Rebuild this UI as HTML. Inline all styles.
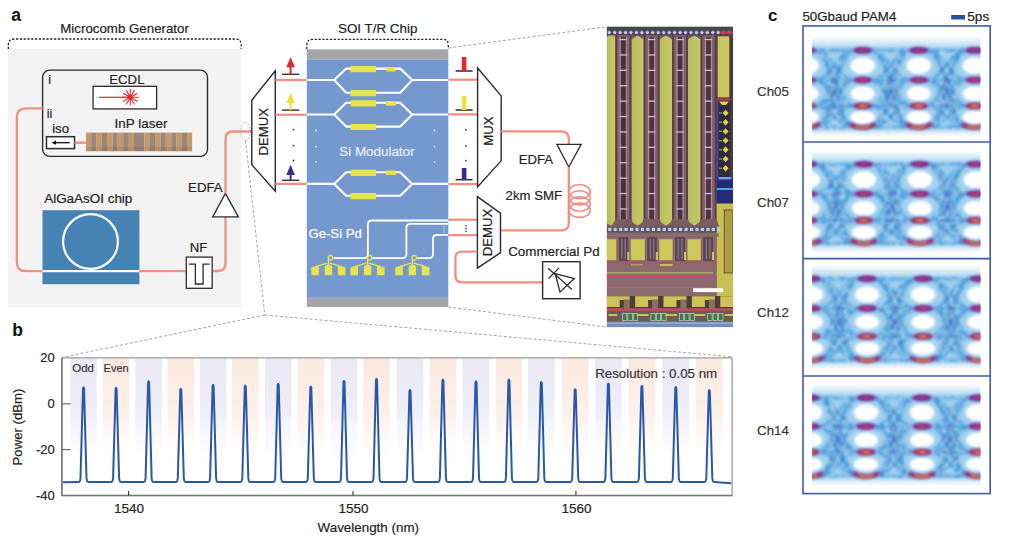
<!DOCTYPE html>
<html><head><meta charset="utf-8"><title>Figure</title>
<style>
html,body{margin:0;padding:0;background:#fff;}
svg{display:block;}
text{font-family:"Liberation Sans", sans-serif;}
</style></head>
<body>
<svg width="1013" height="545" viewBox="0 0 1013 545" font-family="Liberation Sans, sans-serif">
<rect width="1013" height="545" fill="#fff"/>
<defs><linearGradient id="gl" x1="0" y1="0" x2="0" y2="1"><stop offset="0" stop-color="#e9e8f5"/><stop offset="0.5" stop-color="#efeff8"/><stop offset="1" stop-color="#ffffff" stop-opacity="0"/></linearGradient><linearGradient id="gp" x1="0" y1="0" x2="0" y2="1"><stop offset="0" stop-color="#fce9e0"/><stop offset="0.5" stop-color="#fdf0ea"/><stop offset="1" stop-color="#ffffff" stop-opacity="0"/></linearGradient></defs>
<rect x="70.2" y="358.6" width="26.6" height="112" fill="url(#gl)"/>
<rect x="102.8" y="358.6" width="26.6" height="112" fill="url(#gp)"/>
<rect x="135.3" y="358.6" width="26.6" height="112" fill="url(#gl)"/>
<rect x="167.5" y="358.6" width="26.6" height="112" fill="url(#gp)"/>
<rect x="199.8" y="358.6" width="26.6" height="112" fill="url(#gl)"/>
<rect x="232.0" y="358.6" width="26.6" height="112" fill="url(#gp)"/>
<rect x="264.9" y="358.6" width="26.6" height="112" fill="url(#gl)"/>
<rect x="297.5" y="358.6" width="26.6" height="112" fill="url(#gp)"/>
<rect x="330.7" y="358.6" width="26.6" height="112" fill="url(#gl)"/>
<rect x="363.2" y="358.6" width="26.6" height="112" fill="url(#gp)"/>
<rect x="396.7" y="358.6" width="26.6" height="112" fill="url(#gl)"/>
<rect x="429.6" y="358.6" width="26.6" height="112" fill="url(#gp)"/>
<rect x="462.7" y="358.6" width="26.6" height="112" fill="url(#gl)"/>
<rect x="495.6" y="358.6" width="26.6" height="112" fill="url(#gp)"/>
<rect x="528.0" y="358.6" width="26.6" height="112" fill="url(#gl)"/>
<rect x="561.9" y="358.6" width="26.6" height="112" fill="url(#gp)"/>
<rect x="595.1" y="358.6" width="26.6" height="112" fill="url(#gl)"/>
<rect x="628.6" y="358.6" width="26.6" height="112" fill="url(#gp)"/>
<rect x="662.5" y="358.6" width="26.6" height="112" fill="url(#gl)"/>
<rect x="696.0" y="358.6" width="26.6" height="112" fill="url(#gp)"/>
<text x="72.2" y="371.8" font-size="11.5" fill="#333" text-anchor="start" font-weight="normal" stroke="#333" stroke-width="0.18" >Odd</text>
<text x="103.6" y="371.8" font-size="11" fill="#333" text-anchor="start" font-weight="normal" stroke="#333" stroke-width="0.18" >Even</text>
<text x="595.2" y="377.9" font-size="13.3" fill="#333" text-anchor="start" font-weight="normal" stroke="#333" stroke-width="0.18" >Resolution : 0.05 nm</text>
<path d="M62.699999999999996,482.2 L78.9,481.9 Q80.1,481.9 80.5,477.9 L83.0,388.2 Q83.5,386.4 84.0,388.2 L86.5,477.9 Q86.9,481.9 88.1,481.9 L111.5,481.9 Q112.7,481.9 113.1,477.9 L115.6,388.7 Q116.1,386.9 116.6,388.7 L119.1,477.9 Q119.5,481.9 120.7,481.9 L144.0,481.9 Q145.2,481.9 145.6,477.9 L148.1,382.2 Q148.6,380.4 149.1,382.2 L151.6,477.9 Q152.0,481.9 153.2,481.9 L176.2,481.9 Q177.4,481.9 177.8,477.9 L180.3,389.7 Q180.8,387.9 181.3,389.7 L183.8,477.9 Q184.2,481.9 185.4,481.9 L208.5,481.9 Q209.7,481.9 210.1,477.9 L212.6,385.7 Q213.1,383.9 213.6,385.7 L216.1,477.9 Q216.5,481.9 217.7,481.9 L240.7,481.9 Q241.9,481.9 242.3,477.9 L244.8,386.4 Q245.3,384.6 245.8,386.4 L248.3,477.9 Q248.7,481.9 249.9,481.9 L273.6,481.9 Q274.8,481.9 275.2,477.9 L277.7,384.7 Q278.2,382.9 278.7,384.7 L281.2,477.9 Q281.6,481.9 282.8,481.9 L306.2,481.9 Q307.4,481.9 307.8,477.9 L310.3,387.4 Q310.8,385.6 311.3,387.4 L313.8,477.9 Q314.2,481.9 315.4,481.9 L339.4,481.9 Q340.6,481.9 341.0,477.9 L343.5,381.7 Q344.0,379.9 344.5,381.7 L347.0,477.9 Q347.4,481.9 348.6,481.9 L371.9,481.9 Q373.1,481.9 373.5,477.9 L376.0,379.7 Q376.5,377.9 377.0,379.7 L379.5,477.9 Q379.9,481.9 381.1,481.9 L405.4,481.9 Q406.6,481.9 407.0,477.9 L409.5,390.8 Q410.0,389.0 410.5,390.8 L413.0,477.9 Q413.4,481.9 414.6,481.9 L438.3,481.9 Q439.5,481.9 439.9,477.9 L442.4,380.4 Q442.9,378.6 443.4,380.4 L445.9,477.9 Q446.3,481.9 447.5,481.9 L471.4,481.9 Q472.6,481.9 473.0,477.9 L475.5,382.1 Q476.0,380.3 476.5,382.1 L479.0,477.9 Q479.4,481.9 480.6,481.9 L504.3,481.9 Q505.5,481.9 505.9,477.9 L508.4,380.4 Q508.9,378.6 509.4,380.4 L511.9,477.9 Q512.3,481.9 513.5,481.9 L536.7,481.9 Q537.9,481.9 538.3,477.9 L540.8,382.8 Q541.3,381.0 541.8,382.8 L544.3,477.9 Q544.7,481.9 545.9,481.9 L570.6,481.9 Q571.8,481.9 572.2,477.9 L574.7,390.1 Q575.2,388.3 575.7,390.1 L578.2,477.9 Q578.6,481.9 579.8,481.9 L603.8,481.9 Q605.0,481.9 605.4,477.9 L607.9,384.5 Q608.4,382.7 608.9,384.5 L611.4,477.9 Q611.8,481.9 613.0,481.9 L637.3,481.9 Q638.5,481.9 638.9,477.9 L641.4,386.6 Q641.9,384.8 642.4,386.6 L644.9,477.9 Q645.3,481.9 646.5,481.9 L671.2,481.9 Q672.4,481.9 672.8,477.9 L675.3,388.0 Q675.8,386.2 676.3,388.0 L678.8,477.9 Q679.2,481.9 680.4,481.9 L704.7,481.9 Q705.9,481.9 706.3,477.9 L708.8,390.8 Q709.3,389.0 709.8,390.8 L712.3,477.9 Q712.7,481.9 713.9,481.9 L731.3000000000001,483.2" fill="none" stroke="#2a58a8" stroke-width="2.0" stroke-linejoin="round"/>
<rect x="61.9" y="357.9" width="670.2" height="137.70000000000005" fill="none" stroke="#8a8a8a" stroke-width="1.1"/>
<path d="M61.9,357.9 L61.9,495.6 L732.1,495.6" fill="none" stroke="#777" stroke-width="1.5"/>
<line x1="61.9" y1="403.8" x2="70.8" y2="403.8" stroke="#666" stroke-width="1.1"/>
<line x1="61.9" y1="449.6" x2="70.8" y2="449.6" stroke="#666" stroke-width="1.1"/>
<line x1="128.6" y1="495.6" x2="128.6" y2="491.1" stroke="#333" stroke-width="1.1"/>
<line x1="353.0" y1="495.6" x2="353.0" y2="491.1" stroke="#333" stroke-width="1.1"/>
<line x1="575.9" y1="495.6" x2="575.9" y2="491.1" stroke="#333" stroke-width="1.1"/>
<text x="54.7" y="362.29999999999995" font-size="13" fill="#222" text-anchor="end" font-weight="normal" stroke="#222" stroke-width="0.18" >20</text>
<text x="54.7" y="408.15" font-size="13" fill="#222" text-anchor="end" font-weight="normal" stroke="#222" stroke-width="0.18" >0</text>
<text x="54.7" y="453.99999999999994" font-size="13" fill="#222" text-anchor="end" font-weight="normal" stroke="#222" stroke-width="0.18" >-20</text>
<text x="54.7" y="499.84999999999997" font-size="13" fill="#222" text-anchor="end" font-weight="normal" stroke="#222" stroke-width="0.18" >-40</text>
<text x="129.1" y="512.8" font-size="13.5" fill="#222" text-anchor="middle" font-weight="normal" stroke="#222" stroke-width="0.18" >1540</text>
<text x="353.5" y="512.8" font-size="13.5" fill="#222" text-anchor="middle" font-weight="normal" stroke="#222" stroke-width="0.18" >1550</text>
<text x="576.4" y="512.8" font-size="13.5" fill="#222" text-anchor="middle" font-weight="normal" stroke="#222" stroke-width="0.18" >1560</text>
<text x="368.3" y="532.1" font-size="13.4" fill="#222" text-anchor="middle" font-weight="normal" stroke="#222" stroke-width="0.18" >Wavelength (nm)</text>
<text transform="translate(22,427) rotate(-90)" font-size="13.2" fill="#222" stroke="#222" stroke-width="0.18" text-anchor="middle">Power (dBm)</text>
<text x="12.2" y="335.9" font-size="17.5" fill="#111" text-anchor="start" font-weight="bold" >b</text>
<rect x="7.7" y="48.7" width="233.5" height="258.8" fill="#f3f3f3"/>
<path d="M8.3,49 L8.3,45 Q8.3,39 14.3,39 L235.2,39 Q241.2,39 241.2,45 L241.2,49" fill="none" stroke="#222" stroke-width="1.3" stroke-dasharray="2.2,1.6"/>
<path d="M306.8,49 L306.8,45 Q306.8,39.3 312.8,39.3 L442.3,39.3 Q448.3,39.3 448.3,45 L448.3,49" fill="none" stroke="#222" stroke-width="1.3" stroke-dasharray="2.2,1.6"/>
<text x="11.3" y="21.1" font-size="17.5" fill="#111" text-anchor="start" font-weight="bold" >a</text>
<text x="60.3" y="32.9" font-size="13.3" fill="#222" text-anchor="start" font-weight="normal" stroke="#222" stroke-width="0.18" >Microcomb Generator</text>
<text x="338" y="32.9" font-size="13.4" fill="#222" text-anchor="start" font-weight="normal" stroke="#222" stroke-width="0.18" >SOI T/R Chip</text>
<rect x="42.6" y="70.1" width="164.9" height="86.3" rx="7" fill="none" stroke="#2b2b2b" stroke-width="1.4"/>
<text x="48.3" y="83.5" font-size="12.5" fill="#222" text-anchor="start" font-weight="normal" stroke="#222" stroke-width="0.18" >i</text>
<text x="46.8" y="117.9" font-size="12.5" fill="#222" text-anchor="start" font-weight="normal" stroke="#222" stroke-width="0.18" >ii</text>
<text x="109.3" y="83.9" font-size="13.2" fill="#222" text-anchor="start" font-weight="normal" stroke="#222" stroke-width="0.18" >ECDL</text>
<rect x="93.1" y="86.3" width="63.5" height="22.6" fill="#fff" stroke="#2b2b2b" stroke-width="1.3"/>
<line x1="99" y1="97.3" x2="130.3" y2="97.3" stroke="#e8262c" stroke-width="1.2"/>
<path d="M131.30,97.30 L138.60,97.30 M131.17,97.80 L137.49,101.45 M130.80,98.17 L134.45,104.49 M130.30,98.30 L130.30,105.60 M129.80,98.17 L126.15,104.49 M129.43,97.80 L123.11,101.45 M129.30,97.30 L122.00,97.30 M129.43,96.80 L123.11,93.15 M129.80,96.43 L126.15,90.11 M130.30,96.30 L130.30,89.00 M130.80,96.43 L134.45,90.11 M131.17,96.80 L137.49,93.15" stroke="#e8262c" stroke-width="1.1" fill="none"/>
<circle cx="130.3" cy="97.3" r="1.8" fill="#e8262c"/>
<text x="114.6" y="128.4" font-size="13.45" fill="#222" text-anchor="start" font-weight="normal" stroke="#222" stroke-width="0.18" >InP laser</text>
<text x="52.2" y="133.1" font-size="13.2" fill="#222" text-anchor="start" font-weight="normal" stroke="#222" stroke-width="0.18" >iso</text>
<rect x="46.5" y="136.7" width="28" height="11.9" fill="#fff" stroke="#2b2b2b" stroke-width="1.5"/>
<line x1="54" y1="142.7" x2="69.7" y2="142.7" stroke="#111" stroke-width="1.3"/>
<path d="M51.6,142.7 L56,140.6 L56,144.8 Z" fill="#111"/>
<line x1="74.5" y1="142.7" x2="86" y2="142.7" stroke="#f08e82" stroke-width="2.3"/>
<rect x="86" y="132.6" width="5.25" height="18.6" fill="#c59a6b"/>
<rect x="91.2" y="132.6" width="5.05" height="18.6" fill="#9b877c"/>
<rect x="96.2" y="132.6" width="5.55" height="18.6" fill="#c59a6b"/>
<rect x="101.7" y="132.6" width="5.35" height="18.6" fill="#9b877c"/>
<rect x="107" y="132.6" width="5.55" height="18.6" fill="#c59a6b"/>
<rect x="112.5" y="132.6" width="5.25" height="18.6" fill="#9b877c"/>
<rect x="117.7" y="132.6" width="5.55" height="18.6" fill="#c59a6b"/>
<rect x="123.2" y="132.6" width="5.65" height="18.6" fill="#9b877c"/>
<rect x="128.8" y="132.6" width="5.25" height="18.6" fill="#c59a6b"/>
<rect x="134" y="132.6" width="10.35" height="18.6" fill="#9b877c"/>
<rect x="144.3" y="132.6" width="5.55" height="18.6" fill="#c59a6b"/>
<rect x="149.8" y="132.6" width="5.35" height="18.6" fill="#9b877c"/>
<rect x="155.1" y="132.6" width="5.55" height="18.6" fill="#c59a6b"/>
<rect x="160.6" y="132.6" width="5.25" height="18.6" fill="#9b877c"/>
<rect x="165.8" y="132.6" width="5.55" height="18.6" fill="#c59a6b"/>
<rect x="171.3" y="132.6" width="5.35" height="18.6" fill="#9b877c"/>
<rect x="176.6" y="132.6" width="5.25" height="18.6" fill="#c59a6b"/>
<rect x="181.8" y="132.6" width="5.25" height="18.6" fill="#9b877c"/>
<rect x="187" y="132.6" width="5.15" height="18.6" fill="#c59a6b"/>
<rect x="86" y="146.8" width="106.1" height="4.4" fill="#5a4030" opacity="0.13"/>
<path d="M42.6,108.4 L26,108.4 Q16.8,108.4 16.8,117.6 L16.8,262 Q16.8,271.2 26,271.2 L42.5,271.2" fill="none" stroke="#f08e82" stroke-width="2.3"/>
<text x="44.2" y="202.8" font-size="13.45" fill="#222" text-anchor="start" font-weight="normal" stroke="#222" stroke-width="0.18" >AlGaAsOI chip</text>
<rect x="42.5" y="210.2" width="96.9" height="74" fill="#4682b4"/>
<circle cx="90.5" cy="241.5" r="27.4" fill="none" stroke="#fff" stroke-width="2.2"/>
<line x1="42.5" y1="271.2" x2="139.4" y2="271.2" stroke="#fff" stroke-width="2.3"/>
<line x1="139.4" y1="271.2" x2="185.7" y2="271.2" stroke="#f08e82" stroke-width="2.3"/>
<text x="189.8" y="252.1" font-size="13.2" fill="#222" text-anchor="start" font-weight="normal" stroke="#222" stroke-width="0.18" >NF</text>
<rect x="186.3" y="257.1" width="25.9" height="31.2" fill="#fff" stroke="#2b2b2b" stroke-width="1.3"/>
<path d="M188.6,264.2 L195.4,264.2 L195.4,284 L203.1,284 L203.1,264.2 L209.7,264.2" fill="none" stroke="#2b2b2b" stroke-width="1.3"/>
<path d="M212.8,271 L218,271 Q225.5,271 225.5,263.5 L225.5,216.9" fill="none" stroke="#f08e82" stroke-width="2.3"/>
<text x="188.1" y="191.7" font-size="13.2" fill="#222" text-anchor="start" font-weight="normal" stroke="#222" stroke-width="0.18" >EDFA</text>
<path d="M225.4,193.4 L238.3,216.9 L212.7,216.9 Z" fill="#fff" stroke="#2b2b2b" stroke-width="1.3"/>
<path d="M225.5,193.4 L225.5,139 Q225.5,131.5 233,131.5 L252,131.5" fill="none" stroke="#f08e82" stroke-width="2.3"/>
<ellipse cx="245.5" cy="131.3" rx="4.7" ry="9" fill="none" stroke="#999" stroke-width="0.8" stroke-dasharray="1.5,1.5"/>
<path d="M251.8,100.2 L275.3,70.8 L275.3,191.2 L251.8,164.8 Z" fill="#fff" stroke="#2b2b2b" stroke-width="1.4" stroke-linejoin="miter"/>
<text transform="translate(268.4,155.5) rotate(-90)" font-size="13.2" fill="#222" stroke="#222" stroke-width="0.18">DEMUX</text>
<line x1="275.3" y1="80" x2="306.8" y2="80" stroke="#f08e82" stroke-width="2.3"/>
<line x1="275.3" y1="114.8" x2="306.8" y2="114.8" stroke="#f08e82" stroke-width="2.3"/>
<line x1="275.3" y1="183.9" x2="306.8" y2="183.9" stroke="#f08e82" stroke-width="2.3"/>
<line x1="282.0" y1="74.3" x2="299.3" y2="74.3" stroke="#333" stroke-width="1.4"/>
<line x1="290.6" y1="74.3" x2="290.6" y2="65" stroke="#e8262c" stroke-width="2"/>
<path d="M290.6,57 L294.90000000000003,67.2 L286.3,67.2 Z" fill="#e8262c"/>
<line x1="282.0" y1="110.1" x2="299.3" y2="110.1" stroke="#333" stroke-width="1.4"/>
<line x1="290.6" y1="110.1" x2="290.6" y2="100.8" stroke="#ece33a" stroke-width="2"/>
<path d="M290.6,92.8 L294.90000000000003,103.0 L286.3,103.0 Z" fill="#ece33a"/>
<line x1="282.0" y1="180.3" x2="299.3" y2="180.3" stroke="#333" stroke-width="1.4"/>
<line x1="290.6" y1="180.3" x2="290.6" y2="172.8" stroke="#3e2a8c" stroke-width="2"/>
<path d="M290.6,164.8 L294.90000000000003,175.0 L286.3,175.0 Z" fill="#3e2a8c"/>
<circle cx="293.5" cy="129.6" r="0.9" fill="#333"/>
<circle cx="293.5" cy="145.7" r="0.9" fill="#333"/>
<circle cx="293.5" cy="160.5" r="0.9" fill="#333"/>
<rect x="306.8" y="49.3" width="141.5" height="10.4" fill="#a5a6aa"/>
<rect x="306.8" y="59.6" width="141.5" height="238.2" fill="#7599cf"/>
<rect x="306.8" y="297.7" width="141.5" height="9.2" fill="#a5a6aa"/>
<path d="M306.8,80 L334.2,80 L346.2,68.6 L400.2,68.6 L412.2,80 L448.3,80 M334.2,80 L346.2,92.8 L400.2,92.8 L412.2,80" fill="none" stroke="#fff" stroke-width="2.1" stroke-linejoin="round"/>
<rect x="350.5" y="66.1" width="25.6" height="6.2" rx="0.6" fill="#e9e44c"/>
<rect x="385.9" y="66.9" width="9.9" height="4.6" rx="1.2" fill="#e9e44c"/>
<rect x="350.5" y="90.1" width="25.6" height="6.2" rx="0.6" fill="#e9e44c"/>
<path d="M306.8,114.5 L334.2,114.5 L346.2,102.8 L400.2,102.8 L412.2,114.5 L448.3,114.5 M334.2,114.5 L346.2,126.6 L400.2,126.6 L412.2,114.5" fill="none" stroke="#fff" stroke-width="2.1" stroke-linejoin="round"/>
<rect x="350.5" y="100.3" width="25.6" height="6.2" rx="0.6" fill="#e9e44c"/>
<rect x="385.9" y="101.1" width="9.9" height="4.6" rx="1.2" fill="#e9e44c"/>
<rect x="350.5" y="123.9" width="25.6" height="6.2" rx="0.6" fill="#e9e44c"/>
<path d="M306.8,183.9 L334.2,183.9 L346.2,172.2 L400.2,172.2 L412.2,183.9 L448.3,183.9 M334.2,183.9 L346.2,195.8 L400.2,195.8 L412.2,183.9" fill="none" stroke="#fff" stroke-width="2.1" stroke-linejoin="round"/>
<rect x="350.5" y="169.7" width="25.6" height="6.2" rx="0.6" fill="#e9e44c"/>
<rect x="385.9" y="170.5" width="9.9" height="4.6" rx="1.2" fill="#e9e44c"/>
<rect x="350.5" y="193.1" width="25.6" height="6.2" rx="0.6" fill="#e9e44c"/>
<circle cx="316.1" cy="130.4" r="0.9" fill="#e8eef8"/>
<circle cx="434.5" cy="130.4" r="0.9" fill="#e8eef8"/>
<circle cx="316.1" cy="146.6" r="0.9" fill="#e8eef8"/>
<circle cx="434.5" cy="146.6" r="0.9" fill="#e8eef8"/>
<circle cx="316.1" cy="161.8" r="0.9" fill="#e8eef8"/>
<circle cx="434.5" cy="161.8" r="0.9" fill="#e8eef8"/>
<text x="339.3" y="155.8" font-size="13.4" fill="#e9eef7" text-anchor="start" font-weight="normal" stroke="#e9eef7" stroke-width="0.18" >Si Modulator</text>
<text x="308.4" y="238.1" font-size="13.2" fill="#ffffff" text-anchor="start" font-weight="normal" stroke="#ffffff" stroke-width="0.18" >Ge-Si Pd</text>
<path d="M448.3,220.5 L372,220.5 Q367.9,220.5 367.9,224.6 L367.9,254 Q367.9,258.1 363.8,258.1 L333.6,258.1" fill="none" stroke="#fff" stroke-width="1.8"/>
<path d="M448.3,223.8 L410.5,223.8 Q406.4,223.8 406.4,227.9 L406.4,254 Q406.4,258.1 402.3,258.1 L372.5,258.1" fill="none" stroke="#fff" stroke-width="1.8"/>
<path d="M448.3,234.8 L437,234.8 Q433,234.8 433,238.8 L433,254 Q433,258.1 429,258.1 L417.4,258.1" fill="none" stroke="#fff" stroke-width="1.8"/>
<line x1="444" y1="225.5" x2="444" y2="233" stroke="#fff" stroke-width="0.8" stroke-dasharray="1,1"/>
<path d="M311.3,275.2 L311.3,267.6 L318.9,265.3 L318.9,275.2 Z M324.8,275.2 L324.8,266.2 L328.5,263.9 L332.2,266.2 L332.2,275.2 Z M337.8,275.2 L337.8,265.3 L345.5,267.6 L345.5,275.2 Z" fill="#e9e44c"/>
<path d="M315.5,266.6 L327.3,263.2 M329.7,263.2 L341.5,266.6 M328.5,264.5 L328.5,259.5 L328.9,258.5" stroke="#e9e44c" stroke-width="1.4" fill="none"/>
<circle cx="330.4" cy="257.8" r="2.3" fill="none" stroke="#e9e44c" stroke-width="1.3"/>
<path d="M350.40000000000003,275.2 L350.40000000000003,267.6 L358.0,265.3 L358.0,275.2 Z M363.90000000000003,275.2 L363.90000000000003,266.2 L367.6,263.9 L371.3,266.2 L371.3,275.2 Z M376.90000000000003,275.2 L376.90000000000003,265.3 L384.6,267.6 L384.6,275.2 Z" fill="#e9e44c"/>
<path d="M354.6,266.6 L366.40000000000003,263.2 M368.8,263.2 L380.6,266.6 M367.6,264.5 L367.6,259.5 L368.1,258.5" stroke="#e9e44c" stroke-width="1.4" fill="none"/>
<circle cx="369.6" cy="257.8" r="2.3" fill="none" stroke="#e9e44c" stroke-width="1.3"/>
<path d="M395.2,275.2 L395.2,267.6 L402.79999999999995,265.3 L402.79999999999995,275.2 Z M408.7,275.2 L408.7,266.2 L412.4,263.9 L416.09999999999997,266.2 L416.09999999999997,275.2 Z M421.7,275.2 L421.7,265.3 L429.4,267.6 L429.4,275.2 Z" fill="#e9e44c"/>
<path d="M399.4,266.6 L411.2,263.2 M413.59999999999997,263.2 L425.4,266.6 M412.4,264.5 L412.4,259.5 L412.8,258.5" stroke="#e9e44c" stroke-width="1.4" fill="none"/>
<circle cx="414.3" cy="257.8" r="2.3" fill="none" stroke="#e9e44c" stroke-width="1.3"/>
<line x1="448.3" y1="79.7" x2="477.6" y2="79.7" stroke="#f08e82" stroke-width="2.3"/>
<line x1="448.3" y1="114.4" x2="477.6" y2="114.4" stroke="#f08e82" stroke-width="2.3"/>
<line x1="448.3" y1="184.1" x2="477.6" y2="184.1" stroke="#f08e82" stroke-width="2.3"/>
<path d="M477.6,68 L501.2,95.9 L501.2,160.6 L477.6,187 Z" fill="#fff" stroke="#2b2b2b" stroke-width="1.4"/>
<text transform="translate(493.3,145.8) rotate(-90)" font-size="13.2" fill="#222" stroke="#222" stroke-width="0.18">MUX</text>
<line x1="455.6" y1="71" x2="472.6" y2="71" stroke="#2a2a2a" stroke-width="1.5"/>
<rect x="461.8" y="57" width="4.6" height="14" fill="#e8262c"/>
<line x1="455.6" y1="110" x2="472.6" y2="110" stroke="#2a2a2a" stroke-width="1.5"/>
<rect x="461.8" y="95.9" width="4.6" height="14.099999999999994" fill="#ece33a"/>
<line x1="455.6" y1="179.7" x2="472.6" y2="179.7" stroke="#2a2a2a" stroke-width="1.5"/>
<rect x="461.8" y="168" width="4.6" height="11.699999999999989" fill="#3e2a8c"/>
<circle cx="465.9" cy="129.7" r="0.9" fill="#333"/>
<circle cx="465.9" cy="145.9" r="0.9" fill="#333"/>
<circle cx="465.9" cy="160.6" r="0.9" fill="#333"/>
<path d="M501.2,131.3 L561,131.3 Q568.8,131.3 568.8,139 L568.8,144.4" fill="none" stroke="#f08e82" stroke-width="2.3"/>
<path d="M556.9,144.4 L581.2,144.4 L568.8,167 Z" fill="#fff" stroke="#2b2b2b" stroke-width="1.3"/>
<text x="518.7" y="164" font-size="13.2" fill="#222" text-anchor="start" font-weight="normal" stroke="#222" stroke-width="0.18" >EDFA</text>
<text x="505.6" y="199.5" font-size="13.2" fill="#222" text-anchor="start" font-weight="normal" stroke="#222" stroke-width="0.18" >2km SMF</text>
<path d="M568.8,167 L568.8,223 Q568.8,230.4 561.4,230.4 L501.2,230.4" fill="none" stroke="#f08e82" stroke-width="2.3"/>
<ellipse cx="579.6" cy="191.65" rx="10.65" ry="7.15" fill="none" stroke="#f08e82" stroke-width="1.6"/>
<ellipse cx="579.6" cy="197.85" rx="10.65" ry="7.15" fill="none" stroke="#f08e82" stroke-width="1.6"/>
<ellipse cx="579.6" cy="204.05" rx="10.65" ry="7.15" fill="none" stroke="#f08e82" stroke-width="1.6"/>
<ellipse cx="579.6" cy="210.25" rx="10.65" ry="7.15" fill="none" stroke="#f08e82" stroke-width="1.6"/>
<line x1="448.3" y1="219.7" x2="477.4" y2="219.7" stroke="#f08e82" stroke-width="2.3"/>
<line x1="448.3" y1="235.1" x2="477.4" y2="235.1" stroke="#f08e82" stroke-width="2.3"/>
<path d="M477.4,196.6 L500.5,213.1 L500.5,252.7 L477.4,268.1 Z" fill="#fff" stroke="#2b2b2b" stroke-width="1.4"/>
<text transform="translate(492,256.3) rotate(-90)" font-size="13.2" fill="#222" stroke="#222" stroke-width="0.18">DEMUX</text>
<circle cx="466" cy="225.8" r="0.8" fill="#333"/>
<circle cx="466" cy="228.6" r="0.8" fill="#333"/>
<circle cx="466" cy="231.4" r="0.8" fill="#333"/>
<path d="M477.4,251.6 L462,251.6 Q455.4,251.6 455.4,258.2 L455.4,275.8 Q455.4,282.4 462,282.4 L542.6,282.4" fill="none" stroke="#f08e82" stroke-width="2.3"/>
<text x="508.2" y="255.6" font-size="13.38" fill="#222" text-anchor="start" font-weight="normal" stroke="#222" stroke-width="0.18" >Commercial Pd</text>
<rect x="542.6" y="261.7" width="37.5" height="37" fill="#fff" stroke="#2b2b2b" stroke-width="1.4"/>
<path d="M555.2,273.6 L574.3,278.5 L560,292.1 Z M548.1,268.3 L571.9,289.5 M548.6,278.5 L559.1,267.9" fill="none" stroke="#2b2b2b" stroke-width="1.3"/>
<g stroke="#9a9a9a" stroke-width="0.9" stroke-dasharray="3,2" fill="none"><line x1="448.3" y1="48" x2="606.6" y2="26.8"/><line x1="448.3" y1="307" x2="606.6" y2="327"/><line x1="245.5" y1="140.3" x2="264.8" y2="315"/><line x1="264.8" y1="315" x2="61.9" y2="357.5"/><line x1="264.8" y1="315" x2="732" y2="356.8"/></g>
<defs><clipPath id="pclip"><rect x="606.7" y="26.6" width="126.29999999999995" height="300.59999999999997"/></clipPath><filter id="pbl" x="0" y="0" width="100%" height="100%"><feGaussianBlur stdDeviation="0.55"/></filter><linearGradient id="ggr" x1="0" y1="0" x2="1" y2="0"><stop offset="0" stop-color="#b6bc60"/><stop offset="1" stop-color="#c8c766"/></linearGradient></defs>
<g clip-path="url(#pclip)"><g filter="url(#pbl)">
<rect x="606.7" y="26.6" width="126.29999999999995" height="300.59999999999997" fill="#7a5c60"/>
<rect x="606.7" y="26.6" width="126.29999999999995" height="3.2" fill="#3c4c44"/>
<rect x="606.7" y="29.8" width="126.29999999999995" height="5.6" fill="#503a62"/>
<circle cx="609.2" cy="32.6" r="2.0" fill="#c4d4e0" stroke="#34406a" stroke-width="0.7"/>
<rect x="611.5" y="31.8" width="0.9" height="1.6" fill="#c03050"/>
<circle cx="614.7" cy="32.6" r="2.0" fill="#c4d4e0" stroke="#34406a" stroke-width="0.7"/>
<rect x="617.0" y="31.8" width="0.9" height="1.6" fill="#c03050"/>
<circle cx="620.1" cy="32.6" r="2.0" fill="#c4d4e0" stroke="#34406a" stroke-width="0.7"/>
<rect x="622.4" y="31.8" width="0.9" height="1.6" fill="#c03050"/>
<circle cx="625.6" cy="32.6" r="2.0" fill="#c4d4e0" stroke="#34406a" stroke-width="0.7"/>
<rect x="627.9" y="31.8" width="0.9" height="1.6" fill="#c03050"/>
<circle cx="631.0" cy="32.6" r="2.0" fill="#c4d4e0" stroke="#34406a" stroke-width="0.7"/>
<rect x="633.3" y="31.8" width="0.9" height="1.6" fill="#c03050"/>
<circle cx="636.5" cy="32.6" r="2.0" fill="#c4d4e0" stroke="#34406a" stroke-width="0.7"/>
<rect x="638.8" y="31.8" width="0.9" height="1.6" fill="#c03050"/>
<circle cx="641.9" cy="32.6" r="2.0" fill="#c4d4e0" stroke="#34406a" stroke-width="0.7"/>
<rect x="644.2" y="31.8" width="0.9" height="1.6" fill="#c03050"/>
<circle cx="647.4" cy="32.6" r="2.0" fill="#c4d4e0" stroke="#34406a" stroke-width="0.7"/>
<rect x="649.6" y="31.8" width="0.9" height="1.6" fill="#c03050"/>
<circle cx="652.8" cy="32.6" r="2.0" fill="#c4d4e0" stroke="#34406a" stroke-width="0.7"/>
<rect x="655.1" y="31.8" width="0.9" height="1.6" fill="#c03050"/>
<circle cx="658.2" cy="32.6" r="2.0" fill="#c4d4e0" stroke="#34406a" stroke-width="0.7"/>
<rect x="660.5" y="31.8" width="0.9" height="1.6" fill="#c03050"/>
<circle cx="663.7" cy="32.6" r="2.0" fill="#c4d4e0" stroke="#34406a" stroke-width="0.7"/>
<rect x="666.0" y="31.8" width="0.9" height="1.6" fill="#c03050"/>
<circle cx="669.2" cy="32.6" r="2.0" fill="#c4d4e0" stroke="#34406a" stroke-width="0.7"/>
<rect x="671.5" y="31.8" width="0.9" height="1.6" fill="#c03050"/>
<circle cx="674.6" cy="32.6" r="2.0" fill="#c4d4e0" stroke="#34406a" stroke-width="0.7"/>
<rect x="676.9" y="31.8" width="0.9" height="1.6" fill="#c03050"/>
<circle cx="680.1" cy="32.6" r="2.0" fill="#c4d4e0" stroke="#34406a" stroke-width="0.7"/>
<rect x="682.4" y="31.8" width="0.9" height="1.6" fill="#c03050"/>
<circle cx="685.5" cy="32.6" r="2.0" fill="#c4d4e0" stroke="#34406a" stroke-width="0.7"/>
<rect x="687.8" y="31.8" width="0.9" height="1.6" fill="#c03050"/>
<circle cx="691.0" cy="32.6" r="2.0" fill="#c4d4e0" stroke="#34406a" stroke-width="0.7"/>
<rect x="693.2" y="31.8" width="0.9" height="1.6" fill="#c03050"/>
<circle cx="696.4" cy="32.6" r="2.0" fill="#c4d4e0" stroke="#34406a" stroke-width="0.7"/>
<rect x="698.7" y="31.8" width="0.9" height="1.6" fill="#c03050"/>
<circle cx="701.9" cy="32.6" r="2.0" fill="#c4d4e0" stroke="#34406a" stroke-width="0.7"/>
<rect x="704.1" y="31.8" width="0.9" height="1.6" fill="#c03050"/>
<circle cx="707.3" cy="32.6" r="2.0" fill="#c4d4e0" stroke="#34406a" stroke-width="0.7"/>
<rect x="709.6" y="31.8" width="0.9" height="1.6" fill="#c03050"/>
<circle cx="712.8" cy="32.6" r="2.0" fill="#c4d4e0" stroke="#34406a" stroke-width="0.7"/>
<rect x="715.0" y="31.8" width="0.9" height="1.6" fill="#c03050"/>
<circle cx="718.2" cy="32.6" r="2.0" fill="#c4d4e0" stroke="#34406a" stroke-width="0.7"/>
<rect x="720.5" y="31.8" width="0.9" height="1.6" fill="#c03050"/>
<circle cx="723.7" cy="32.6" r="2.0" fill="#c4d4e0" stroke="#34406a" stroke-width="0.7"/>
<rect x="726.0" y="31.8" width="0.9" height="1.6" fill="#c03050"/>
<circle cx="729.1" cy="32.6" r="2.0" fill="#c4d4e0" stroke="#34406a" stroke-width="0.7"/>
<rect x="731.4" y="31.8" width="0.9" height="1.6" fill="#c03050"/>
<circle cx="734.6" cy="32.6" r="2.0" fill="#c4d4e0" stroke="#34406a" stroke-width="0.7"/>
<rect x="736.9" y="31.8" width="0.9" height="1.6" fill="#c03050"/>
<rect x="720.5" y="31.2" width="12" height="2.6" fill="#d0304c"/>
<path d="M606.7,37.5 L608.7,35.6 L615.3,35.6 L615.3,221.5 L611.0,225.8 L606.7,223 Z" fill="url(#ggr)"/>
<path d="M631.4,39.5 L637.55,35.6 L643.7,39.5 L643.7,221.5 L637.55,225.8 L631.4,221.5 Z" fill="url(#ggr)"/>
<path d="M659.5,39.5 L665.8,35.6 L672.1,39.5 L672.1,221.5 L665.8,225.8 L659.5,221.5 Z" fill="url(#ggr)"/>
<path d="M688,39.5 L694.3,35.6 L700.6,39.5 L700.6,221.5 L694.3,225.8 L688,221.5 Z" fill="url(#ggr)"/>
<rect x="716.4" y="35.5" width="14.2" height="63" fill="#4a3838"/>
<rect x="717.6" y="36.3" width="11.8" height="61" fill="#c8c862"/>
<rect x="729.8" y="35.5" width="3.2" height="170" fill="#4a3a3a"/>
<rect x="716.4" y="98.6" width="14" height="2" fill="#c8344e"/>
<rect x="716.4" y="100.6" width="13.6" height="77" fill="#2e2a40"/>
<rect x="716.4" y="100.6" width="2" height="77" fill="#4a48a0"/>
<path d="M725.6,109.8 L728.6,113.0 L725.6,116.2 L722.6,113.0 Z" fill="#dcd244"/>
<rect x="719" y="112.4" width="3" height="1.2" fill="#9aa060"/>
<path d="M725.6,119.0 L728.6,122.2 L725.6,125.4 L722.6,122.2 Z" fill="#dcd244"/>
<rect x="719" y="121.60000000000001" width="3" height="1.2" fill="#9aa060"/>
<path d="M725.6,128.20000000000002 L728.6,131.4 L725.6,134.6 L722.6,131.4 Z" fill="#dcd244"/>
<rect x="719" y="130.8" width="3" height="1.2" fill="#9aa060"/>
<path d="M725.6,137.4 L728.6,140.6 L725.6,143.79999999999998 L722.6,140.6 Z" fill="#dcd244"/>
<rect x="719" y="140.0" width="3" height="1.2" fill="#9aa060"/>
<path d="M725.6,146.60000000000002 L728.6,149.8 L725.6,153.0 L722.6,149.8 Z" fill="#dcd244"/>
<rect x="719" y="149.20000000000002" width="3" height="1.2" fill="#9aa060"/>
<path d="M725.6,155.8 L728.6,159.0 L725.6,162.2 L722.6,159.0 Z" fill="#dcd244"/>
<rect x="719" y="158.4" width="3" height="1.2" fill="#9aa060"/>
<path d="M725.6,165.0 L728.6,168.2 L725.6,171.39999999999998 L722.6,168.2 Z" fill="#dcd244"/>
<rect x="719" y="167.6" width="3" height="1.2" fill="#9aa060"/>
<path d="M719,101.5 L729,101.5 L726,105 L722,105 Z" fill="#dcd244"/>
<rect x="716.4" y="177" width="16.6" height="27" fill="#262a78"/>
<rect x="718.5" y="177" width="13" height="2.4" fill="#8a96e8"/>
<rect x="716.4" y="188" width="16.6" height="2" fill="#40a8e0"/>
<rect x="716.4" y="203.5" width="16.6" height="96" fill="#c8c052"/>
<rect x="724.3" y="209.9" width="8.7" height="63" fill="#b09c40" stroke="#5a4a30" stroke-width="0.9"/>
<rect x="615.3" y="35.4" width="16.100000000000023" height="191" fill="#573e44"/>
<rect x="617.0999999999999" y="35.4" width="12.5" height="191" fill="#80606a"/>
<rect x="620.8" y="37" width="5.1" height="186" fill="#46343e"/>
<rect x="619.5999999999999" y="37" width="1.2" height="186" fill="#b08496"/>
<rect x="625.9" y="37" width="1.2" height="186" fill="#b08496"/>
<rect x="619.5999999999999" y="38.9" width="7.5" height="1.3" fill="#c6bee0"/>
<rect x="619.5999999999999" y="54.3" width="7.5" height="1.3" fill="#c6bee0"/>
<rect x="619.5999999999999" y="69.7" width="7.5" height="1.3" fill="#c6bee0"/>
<rect x="619.5999999999999" y="85.1" width="7.5" height="1.3" fill="#c6bee0"/>
<rect x="619.5999999999999" y="100.5" width="7.5" height="1.3" fill="#c6bee0"/>
<rect x="619.5999999999999" y="115.9" width="7.5" height="1.3" fill="#c6bee0"/>
<rect x="619.5999999999999" y="131.3" width="7.5" height="1.3" fill="#c6bee0"/>
<rect x="619.5999999999999" y="146.7" width="7.5" height="1.3" fill="#c6bee0"/>
<rect x="619.5999999999999" y="162.1" width="7.5" height="1.3" fill="#c6bee0"/>
<rect x="619.5999999999999" y="177.5" width="7.5" height="1.3" fill="#c6bee0"/>
<rect x="619.5999999999999" y="192.9" width="7.5" height="1.3" fill="#c6bee0"/>
<rect x="619.5999999999999" y="208.3" width="7.5" height="1.3" fill="#c6bee0"/>
<rect x="619.5999999999999" y="223.7" width="7.5" height="1.3" fill="#c6bee0"/>
<path d="M615.3,219 L612.3,226.5 L634.4,226.5 L631.4,219 Z" fill="#7c5a62"/>
<rect x="643.7" y="35.4" width="15.799999999999955" height="191" fill="#573e44"/>
<rect x="645.5" y="35.4" width="12.2" height="191" fill="#80606a"/>
<rect x="649.2" y="37" width="4.8" height="186" fill="#46343e"/>
<rect x="648.0" y="37" width="1.2" height="186" fill="#b08496"/>
<rect x="654.0" y="37" width="1.2" height="186" fill="#b08496"/>
<rect x="648.0" y="38.9" width="7.2" height="1.3" fill="#c6bee0"/>
<rect x="648.0" y="54.3" width="7.2" height="1.3" fill="#c6bee0"/>
<rect x="648.0" y="69.7" width="7.2" height="1.3" fill="#c6bee0"/>
<rect x="648.0" y="85.1" width="7.2" height="1.3" fill="#c6bee0"/>
<rect x="648.0" y="100.5" width="7.2" height="1.3" fill="#c6bee0"/>
<rect x="648.0" y="115.9" width="7.2" height="1.3" fill="#c6bee0"/>
<rect x="648.0" y="131.3" width="7.2" height="1.3" fill="#c6bee0"/>
<rect x="648.0" y="146.7" width="7.2" height="1.3" fill="#c6bee0"/>
<rect x="648.0" y="162.1" width="7.2" height="1.3" fill="#c6bee0"/>
<rect x="648.0" y="177.5" width="7.2" height="1.3" fill="#c6bee0"/>
<rect x="648.0" y="192.9" width="7.2" height="1.3" fill="#c6bee0"/>
<rect x="648.0" y="208.3" width="7.2" height="1.3" fill="#c6bee0"/>
<rect x="648.0" y="223.7" width="7.2" height="1.3" fill="#c6bee0"/>
<path d="M643.7,219 L640.7,226.5 L662.5,226.5 L659.5,219 Z" fill="#7c5a62"/>
<rect x="672.1" y="35.4" width="15.899999999999977" height="191" fill="#573e44"/>
<rect x="673.9" y="35.4" width="12.3" height="191" fill="#80606a"/>
<rect x="677.6" y="37" width="4.9" height="186" fill="#46343e"/>
<rect x="676.4" y="37" width="1.2" height="186" fill="#b08496"/>
<rect x="682.5" y="37" width="1.2" height="186" fill="#b08496"/>
<rect x="676.4" y="38.9" width="7.3" height="1.3" fill="#c6bee0"/>
<rect x="676.4" y="54.3" width="7.3" height="1.3" fill="#c6bee0"/>
<rect x="676.4" y="69.7" width="7.3" height="1.3" fill="#c6bee0"/>
<rect x="676.4" y="85.1" width="7.3" height="1.3" fill="#c6bee0"/>
<rect x="676.4" y="100.5" width="7.3" height="1.3" fill="#c6bee0"/>
<rect x="676.4" y="115.9" width="7.3" height="1.3" fill="#c6bee0"/>
<rect x="676.4" y="131.3" width="7.3" height="1.3" fill="#c6bee0"/>
<rect x="676.4" y="146.7" width="7.3" height="1.3" fill="#c6bee0"/>
<rect x="676.4" y="162.1" width="7.3" height="1.3" fill="#c6bee0"/>
<rect x="676.4" y="177.5" width="7.3" height="1.3" fill="#c6bee0"/>
<rect x="676.4" y="192.9" width="7.3" height="1.3" fill="#c6bee0"/>
<rect x="676.4" y="208.3" width="7.3" height="1.3" fill="#c6bee0"/>
<rect x="676.4" y="223.7" width="7.3" height="1.3" fill="#c6bee0"/>
<path d="M672.1,219 L669.1,226.5 L691,226.5 L688,219 Z" fill="#7c5a62"/>
<rect x="700.6" y="35.4" width="15.799999999999955" height="191" fill="#573e44"/>
<rect x="702.4" y="35.4" width="12.2" height="191" fill="#80606a"/>
<rect x="706.1" y="37" width="4.8" height="186" fill="#46343e"/>
<rect x="704.9" y="37" width="1.2" height="186" fill="#b08496"/>
<rect x="710.9" y="37" width="1.2" height="186" fill="#b08496"/>
<rect x="704.9" y="38.9" width="7.2" height="1.3" fill="#c6bee0"/>
<rect x="704.9" y="54.3" width="7.2" height="1.3" fill="#c6bee0"/>
<rect x="704.9" y="69.7" width="7.2" height="1.3" fill="#c6bee0"/>
<rect x="704.9" y="85.1" width="7.2" height="1.3" fill="#c6bee0"/>
<rect x="704.9" y="100.5" width="7.2" height="1.3" fill="#c6bee0"/>
<rect x="704.9" y="115.9" width="7.2" height="1.3" fill="#c6bee0"/>
<rect x="704.9" y="131.3" width="7.2" height="1.3" fill="#c6bee0"/>
<rect x="704.9" y="146.7" width="7.2" height="1.3" fill="#c6bee0"/>
<rect x="704.9" y="162.1" width="7.2" height="1.3" fill="#c6bee0"/>
<rect x="704.9" y="177.5" width="7.2" height="1.3" fill="#c6bee0"/>
<rect x="704.9" y="192.9" width="7.2" height="1.3" fill="#c6bee0"/>
<rect x="704.9" y="208.3" width="7.2" height="1.3" fill="#c6bee0"/>
<rect x="704.9" y="223.7" width="7.2" height="1.3" fill="#c6bee0"/>
<path d="M700.6,219 L697.6,226.5 L719.4,226.5 L716.4,219 Z" fill="#7c5a62"/>
<rect x="606.7" y="226.6" width="110" height="5.6" fill="#5a5464"/>
<rect x="608.2" y="227.8" width="3.2" height="3.2" fill="#b8d0d8"/>
<rect x="613.6" y="227.8" width="3.2" height="3.2" fill="#b8d0d8"/>
<rect x="619.1" y="227.8" width="3.2" height="3.2" fill="#b8d0d8"/>
<rect x="624.5" y="227.8" width="3.2" height="3.2" fill="#b8d0d8"/>
<rect x="630.0" y="227.8" width="3.2" height="3.2" fill="#b8d0d8"/>
<rect x="635.4" y="227.8" width="3.2" height="3.2" fill="#b8d0d8"/>
<rect x="640.9" y="227.8" width="3.2" height="3.2" fill="#b8d0d8"/>
<rect x="646.3" y="227.8" width="3.2" height="3.2" fill="#b8d0d8"/>
<rect x="651.8" y="227.8" width="3.2" height="3.2" fill="#b8d0d8"/>
<rect x="657.2" y="227.8" width="3.2" height="3.2" fill="#b8d0d8"/>
<rect x="662.7" y="227.8" width="3.2" height="3.2" fill="#b8d0d8"/>
<rect x="668.1" y="227.8" width="3.2" height="3.2" fill="#b8d0d8"/>
<rect x="673.6" y="227.8" width="3.2" height="3.2" fill="#b8d0d8"/>
<rect x="679.0" y="227.8" width="3.2" height="3.2" fill="#b8d0d8"/>
<rect x="684.5" y="227.8" width="3.2" height="3.2" fill="#b8d0d8"/>
<rect x="689.9" y="227.8" width="3.2" height="3.2" fill="#b8d0d8"/>
<rect x="695.4" y="227.8" width="3.2" height="3.2" fill="#b8d0d8"/>
<rect x="700.8" y="227.8" width="3.2" height="3.2" fill="#b8d0d8"/>
<rect x="706.3" y="227.8" width="3.2" height="3.2" fill="#b8d0d8"/>
<rect x="711.7" y="227.8" width="3.2" height="3.2" fill="#b8d0d8"/>
<rect x="717.2" y="227.8" width="3.2" height="3.2" fill="#b8d0d8"/>
<rect x="606.7" y="233.3" width="112" height="3.6" fill="#8c6a72"/>
<rect x="606.7" y="236.9" width="110" height="59.5" fill="#8a6a6c"/>
<rect x="606.7" y="239.2" width="9.5" height="21" fill="#cec85a"/>
<rect x="630.8" y="239.2" width="14.0" height="21" fill="#cec85a"/>
<rect x="659.3" y="239.2" width="13.300000000000068" height="21" fill="#cec85a"/>
<rect x="687.5" y="239.2" width="13.299999999999955" height="21" fill="#cec85a"/>
<rect x="618.7" y="237" width="9.6" height="24" fill="#5c4650"/>
<rect x="621.2" y="239" width="1.2" height="20" fill="#8a7898"/>
<rect x="624.6" y="239" width="1.2" height="20" fill="#8a7898"/>
<rect x="627.3" y="252" width="2" height="8" fill="#cec85a"/>
<rect x="647.3" y="237" width="9.5" height="24" fill="#5c4650"/>
<rect x="649.8" y="239" width="1.2" height="20" fill="#8a7898"/>
<rect x="653.1" y="239" width="1.2" height="20" fill="#8a7898"/>
<rect x="655.8" y="252" width="2" height="8" fill="#cec85a"/>
<rect x="675.1" y="237" width="9.9" height="24" fill="#5c4650"/>
<rect x="677.6" y="239" width="1.2" height="20" fill="#8a7898"/>
<rect x="681.3" y="239" width="1.2" height="20" fill="#8a7898"/>
<rect x="684.0" y="252" width="2" height="8" fill="#cec85a"/>
<rect x="703.3" y="237" width="9.7" height="24" fill="#5c4650"/>
<rect x="705.8" y="239" width="1.2" height="20" fill="#8a7898"/>
<rect x="709.3" y="239" width="1.2" height="20" fill="#8a7898"/>
<rect x="712.0" y="252" width="2" height="8" fill="#cec85a"/>
<rect x="606.7" y="261.3" width="110" height="1" fill="#b04a78"/>
<rect x="660" y="264" width="12.6" height="2" fill="#c8c050"/>
<rect x="631" y="264" width="12" height="1.4" fill="#c8c050" opacity="0.6"/>
<rect x="606.7" y="272" width="106" height="1.4" fill="#b8a858"/>
<rect x="606.7" y="275.6" width="110" height="2.2" fill="#c0487a"/>
<rect x="606.7" y="287" width="105" height="1" fill="#a878a0" opacity="0.7"/>
<rect x="693.2" y="288.2" width="30" height="3.9" fill="#ffffff"/>
<rect x="606.7" y="296" width="126.29999999999995" height="12.5" fill="#4e3c40"/>
<path d="M606.7,296.2 L629.7,296.2 L629.7,300 L619.7,300 L619.7,307 L606.7,307 Z" fill="#ccc256"/>
<rect x="623.7" y="299.5" width="6" height="11" fill="#8c7058"/>
<path d="M635.1,296.2 L658.1,296.2 L658.1,300 L648.1,300 L648.1,307 L635.1,307 Z" fill="#ccc256"/>
<rect x="652.1" y="299.5" width="6" height="11" fill="#8c7058"/>
<path d="M663.5,296.2 L686.5,296.2 L686.5,300 L676.5,300 L676.5,307 L663.5,307 Z" fill="#ccc256"/>
<rect x="680.5" y="299.5" width="6" height="11" fill="#8c7058"/>
<path d="M691.9000000000001,296.2 L714.9000000000001,296.2 L714.9000000000001,300 L704.9000000000001,300 L704.9000000000001,307 L691.9000000000001,307 Z" fill="#ccc256"/>
<rect x="708.9000000000001" y="299.5" width="6" height="11" fill="#8c7058"/>
<path d="M720.3000000000001,296.2 L743.3000000000001,296.2 L743.3000000000001,300 L733.3000000000001,300 L733.3000000000001,307 L720.3000000000001,307 Z" fill="#ccc256"/>
<rect x="737.3000000000001" y="299.5" width="6" height="11" fill="#8c7058"/>
<rect x="606.7" y="308.3" width="126.29999999999995" height="2.6" fill="#c04c62"/>
<rect x="606.7" y="310.9" width="126.29999999999995" height="11" fill="#6e5a56"/>
<rect x="622.5" y="313.4" width="4.4" height="7.2" fill="#3a7a46" stroke="#d0d8c8" stroke-width="0.7"/>
<rect x="627.9" y="313.4" width="4.4" height="7.2" fill="#3a7a46" stroke="#d0d8c8" stroke-width="0.7"/>
<rect x="633.3" y="313.4" width="4.4" height="7.2" fill="#3a7a46" stroke="#d0d8c8" stroke-width="0.7"/>
<rect x="608.5" y="314" width="9" height="2" fill="#ccc256"/>
<rect x="639.5" y="314" width="9" height="2" fill="#ccc256"/>
<rect x="650.9" y="313.4" width="4.4" height="7.2" fill="#3a7a46" stroke="#d0d8c8" stroke-width="0.7"/>
<rect x="656.3" y="313.4" width="4.4" height="7.2" fill="#3a7a46" stroke="#d0d8c8" stroke-width="0.7"/>
<rect x="661.7" y="313.4" width="4.4" height="7.2" fill="#3a7a46" stroke="#d0d8c8" stroke-width="0.7"/>
<rect x="636.9" y="314" width="9" height="2" fill="#ccc256"/>
<rect x="667.9" y="314" width="9" height="2" fill="#ccc256"/>
<rect x="679.3" y="313.4" width="4.4" height="7.2" fill="#3a7a46" stroke="#d0d8c8" stroke-width="0.7"/>
<rect x="684.7" y="313.4" width="4.4" height="7.2" fill="#3a7a46" stroke="#d0d8c8" stroke-width="0.7"/>
<rect x="690.1" y="313.4" width="4.4" height="7.2" fill="#3a7a46" stroke="#d0d8c8" stroke-width="0.7"/>
<rect x="665.3" y="314" width="9" height="2" fill="#ccc256"/>
<rect x="696.3" y="314" width="9" height="2" fill="#ccc256"/>
<rect x="707.7" y="313.4" width="4.4" height="7.2" fill="#3a7a46" stroke="#d0d8c8" stroke-width="0.7"/>
<rect x="713.1" y="313.4" width="4.4" height="7.2" fill="#3a7a46" stroke="#d0d8c8" stroke-width="0.7"/>
<rect x="718.5" y="313.4" width="4.4" height="7.2" fill="#3a7a46" stroke="#d0d8c8" stroke-width="0.7"/>
<rect x="693.7" y="314" width="9" height="2" fill="#ccc256"/>
<rect x="724.7" y="314" width="9" height="2" fill="#ccc256"/>
<rect x="606.7" y="321.7" width="126.29999999999995" height="5.5" fill="#7090c0"/>
<rect x="606.7" y="322.5" width="126.29999999999995" height="1.2" fill="#c0d0e8" opacity="0.6"/>
</g></g>
<defs><filter id="bl1" filterUnits="userSpaceOnUse" x="790" y="0" width="223" height="545"><feGaussianBlur stdDeviation="1.6"/></filter><filter id="grain" x="800" y="0" width="200" height="545" filterUnits="userSpaceOnUse" color-interpolation-filters="sRGB"><feGaussianBlur in="SourceGraphic" stdDeviation="1.3" result="b"/><feTurbulence type="fractalNoise" baseFrequency="0.2" numOctaves="2" seed="7" result="noise"/><feColorMatrix in="noise" type="matrix" values="0 0 0 0 0  0 0 0 0 0  0 0 0 0 0  2.2 0 0 0 -0.55" result="mask"/><feComposite in="b" in2="mask" operator="in" result="g"/><feGaussianBlur in="g" stdDeviation="0.8"/></filter><linearGradient id="eg" x1="0" y1="0" x2="0" y2="1"><stop offset="0" stop-color="#ffffff"/><stop offset="0.02" stop-color="#f4f9fd"/><stop offset="0.07" stop-color="#d0e8f7"/><stop offset="0.13" stop-color="#a2d0ef"/><stop offset="0.9" stop-color="#a2d0ef"/><stop offset="0.96" stop-color="#e4f1fa"/><stop offset="1" stop-color="#ffffff"/></linearGradient><clipPath id="eclip0"><rect x="812.1" y="31.9" width="168.4" height="106"/></clipPath><clipPath id="eclip1"><rect x="812.1" y="148.0" width="168.4" height="106"/></clipPath><clipPath id="eclip2"><rect x="812.1" y="264.6" width="168.4" height="106"/></clipPath><clipPath id="eclip3"><rect x="812.1" y="382.0" width="168.4" height="106"/></clipPath></defs><g clip-path="url(#eclip0)"><rect x="812.1" y="36.3" width="168.4" height="101.0" fill="url(#eg)"/><path d="M794.7,50.3 L813.7,50.3 C832.7,50.3 836.7,50.3 855.7,50.3 L874.7,50.3 M794.7,50.3 L813.7,50.3 C832.7,50.3 836.7,80.0 855.7,80.0 L874.7,80.0 M794.7,50.3 L813.7,50.3 C832.7,50.3 836.7,106.0 855.7,106.0 L874.7,106.0 M794.7,50.3 L813.7,50.3 C832.7,50.3 836.7,127.3 855.7,127.3 L874.7,127.3 M794.7,80.0 L813.7,80.0 C832.7,80.0 836.7,50.3 855.7,50.3 L874.7,50.3 M794.7,80.0 L813.7,80.0 C832.7,80.0 836.7,80.0 855.7,80.0 L874.7,80.0 M794.7,80.0 L813.7,80.0 C832.7,80.0 836.7,106.0 855.7,106.0 L874.7,106.0 M794.7,80.0 L813.7,80.0 C832.7,80.0 836.7,127.3 855.7,127.3 L874.7,127.3 M794.7,106.0 L813.7,106.0 C832.7,106.0 836.7,50.3 855.7,50.3 L874.7,50.3 M794.7,106.0 L813.7,106.0 C832.7,106.0 836.7,80.0 855.7,80.0 L874.7,80.0 M794.7,106.0 L813.7,106.0 C832.7,106.0 836.7,106.0 855.7,106.0 L874.7,106.0 M794.7,106.0 L813.7,106.0 C832.7,106.0 836.7,127.3 855.7,127.3 L874.7,127.3 M794.7,127.3 L813.7,127.3 C832.7,127.3 836.7,50.3 855.7,50.3 L874.7,50.3 M794.7,127.3 L813.7,127.3 C832.7,127.3 836.7,80.0 855.7,80.0 L874.7,80.0 M794.7,127.3 L813.7,127.3 C832.7,127.3 836.7,106.0 855.7,106.0 L874.7,106.0 M794.7,127.3 L813.7,127.3 C832.7,127.3 836.7,127.3 855.7,127.3 L874.7,127.3 M850.7,50.3 L869.7,50.3 C888.7,50.3 892.7,50.3 911.7,50.3 L930.7,50.3 M850.7,50.3 L869.7,50.3 C888.7,50.3 892.7,80.0 911.7,80.0 L930.7,80.0 M850.7,50.3 L869.7,50.3 C888.7,50.3 892.7,106.0 911.7,106.0 L930.7,106.0 M850.7,50.3 L869.7,50.3 C888.7,50.3 892.7,127.3 911.7,127.3 L930.7,127.3 M850.7,80.0 L869.7,80.0 C888.7,80.0 892.7,50.3 911.7,50.3 L930.7,50.3 M850.7,80.0 L869.7,80.0 C888.7,80.0 892.7,80.0 911.7,80.0 L930.7,80.0 M850.7,80.0 L869.7,80.0 C888.7,80.0 892.7,106.0 911.7,106.0 L930.7,106.0 M850.7,80.0 L869.7,80.0 C888.7,80.0 892.7,127.3 911.7,127.3 L930.7,127.3 M850.7,106.0 L869.7,106.0 C888.7,106.0 892.7,50.3 911.7,50.3 L930.7,50.3 M850.7,106.0 L869.7,106.0 C888.7,106.0 892.7,80.0 911.7,80.0 L930.7,80.0 M850.7,106.0 L869.7,106.0 C888.7,106.0 892.7,106.0 911.7,106.0 L930.7,106.0 M850.7,106.0 L869.7,106.0 C888.7,106.0 892.7,127.3 911.7,127.3 L930.7,127.3 M850.7,127.3 L869.7,127.3 C888.7,127.3 892.7,50.3 911.7,50.3 L930.7,50.3 M850.7,127.3 L869.7,127.3 C888.7,127.3 892.7,80.0 911.7,80.0 L930.7,80.0 M850.7,127.3 L869.7,127.3 C888.7,127.3 892.7,106.0 911.7,106.0 L930.7,106.0 M850.7,127.3 L869.7,127.3 C888.7,127.3 892.7,127.3 911.7,127.3 L930.7,127.3 M906.7,50.3 L925.7,50.3 C944.7,50.3 948.7,50.3 967.7,50.3 L986.7,50.3 M906.7,50.3 L925.7,50.3 C944.7,50.3 948.7,80.0 967.7,80.0 L986.7,80.0 M906.7,50.3 L925.7,50.3 C944.7,50.3 948.7,106.0 967.7,106.0 L986.7,106.0 M906.7,50.3 L925.7,50.3 C944.7,50.3 948.7,127.3 967.7,127.3 L986.7,127.3 M906.7,80.0 L925.7,80.0 C944.7,80.0 948.7,50.3 967.7,50.3 L986.7,50.3 M906.7,80.0 L925.7,80.0 C944.7,80.0 948.7,80.0 967.7,80.0 L986.7,80.0 M906.7,80.0 L925.7,80.0 C944.7,80.0 948.7,106.0 967.7,106.0 L986.7,106.0 M906.7,80.0 L925.7,80.0 C944.7,80.0 948.7,127.3 967.7,127.3 L986.7,127.3 M906.7,106.0 L925.7,106.0 C944.7,106.0 948.7,50.3 967.7,50.3 L986.7,50.3 M906.7,106.0 L925.7,106.0 C944.7,106.0 948.7,80.0 967.7,80.0 L986.7,80.0 M906.7,106.0 L925.7,106.0 C944.7,106.0 948.7,106.0 967.7,106.0 L986.7,106.0 M906.7,106.0 L925.7,106.0 C944.7,106.0 948.7,127.3 967.7,127.3 L986.7,127.3 M906.7,127.3 L925.7,127.3 C944.7,127.3 948.7,50.3 967.7,50.3 L986.7,50.3 M906.7,127.3 L925.7,127.3 C944.7,127.3 948.7,80.0 967.7,80.0 L986.7,80.0 M906.7,127.3 L925.7,127.3 C944.7,127.3 948.7,106.0 967.7,106.0 L986.7,106.0 M906.7,127.3 L925.7,127.3 C944.7,127.3 948.7,127.3 967.7,127.3 L986.7,127.3" stroke="#128ed8" stroke-width="3.0" stroke-opacity="0.66" fill="none" filter="url(#grain)"/><path d="M794.7,50.3 L813.7,50.3 C832.7,50.3 836.7,50.3 855.7,50.3 L874.7,50.3 M794.7,50.3 L813.7,50.3 C832.7,50.3 836.7,80.0 855.7,80.0 L874.7,80.0 M794.7,50.3 L813.7,50.3 C832.7,50.3 836.7,106.0 855.7,106.0 L874.7,106.0 M794.7,50.3 L813.7,50.3 C832.7,50.3 836.7,127.3 855.7,127.3 L874.7,127.3 M794.7,80.0 L813.7,80.0 C832.7,80.0 836.7,50.3 855.7,50.3 L874.7,50.3 M794.7,80.0 L813.7,80.0 C832.7,80.0 836.7,80.0 855.7,80.0 L874.7,80.0 M794.7,80.0 L813.7,80.0 C832.7,80.0 836.7,106.0 855.7,106.0 L874.7,106.0 M794.7,80.0 L813.7,80.0 C832.7,80.0 836.7,127.3 855.7,127.3 L874.7,127.3 M794.7,106.0 L813.7,106.0 C832.7,106.0 836.7,50.3 855.7,50.3 L874.7,50.3 M794.7,106.0 L813.7,106.0 C832.7,106.0 836.7,80.0 855.7,80.0 L874.7,80.0 M794.7,106.0 L813.7,106.0 C832.7,106.0 836.7,106.0 855.7,106.0 L874.7,106.0 M794.7,106.0 L813.7,106.0 C832.7,106.0 836.7,127.3 855.7,127.3 L874.7,127.3 M794.7,127.3 L813.7,127.3 C832.7,127.3 836.7,50.3 855.7,50.3 L874.7,50.3 M794.7,127.3 L813.7,127.3 C832.7,127.3 836.7,80.0 855.7,80.0 L874.7,80.0 M794.7,127.3 L813.7,127.3 C832.7,127.3 836.7,106.0 855.7,106.0 L874.7,106.0 M794.7,127.3 L813.7,127.3 C832.7,127.3 836.7,127.3 855.7,127.3 L874.7,127.3 M850.7,50.3 L869.7,50.3 C888.7,50.3 892.7,50.3 911.7,50.3 L930.7,50.3 M850.7,50.3 L869.7,50.3 C888.7,50.3 892.7,80.0 911.7,80.0 L930.7,80.0 M850.7,50.3 L869.7,50.3 C888.7,50.3 892.7,106.0 911.7,106.0 L930.7,106.0 M850.7,50.3 L869.7,50.3 C888.7,50.3 892.7,127.3 911.7,127.3 L930.7,127.3 M850.7,80.0 L869.7,80.0 C888.7,80.0 892.7,50.3 911.7,50.3 L930.7,50.3 M850.7,80.0 L869.7,80.0 C888.7,80.0 892.7,80.0 911.7,80.0 L930.7,80.0 M850.7,80.0 L869.7,80.0 C888.7,80.0 892.7,106.0 911.7,106.0 L930.7,106.0 M850.7,80.0 L869.7,80.0 C888.7,80.0 892.7,127.3 911.7,127.3 L930.7,127.3 M850.7,106.0 L869.7,106.0 C888.7,106.0 892.7,50.3 911.7,50.3 L930.7,50.3 M850.7,106.0 L869.7,106.0 C888.7,106.0 892.7,80.0 911.7,80.0 L930.7,80.0 M850.7,106.0 L869.7,106.0 C888.7,106.0 892.7,106.0 911.7,106.0 L930.7,106.0 M850.7,106.0 L869.7,106.0 C888.7,106.0 892.7,127.3 911.7,127.3 L930.7,127.3 M850.7,127.3 L869.7,127.3 C888.7,127.3 892.7,50.3 911.7,50.3 L930.7,50.3 M850.7,127.3 L869.7,127.3 C888.7,127.3 892.7,80.0 911.7,80.0 L930.7,80.0 M850.7,127.3 L869.7,127.3 C888.7,127.3 892.7,106.0 911.7,106.0 L930.7,106.0 M850.7,127.3 L869.7,127.3 C888.7,127.3 892.7,127.3 911.7,127.3 L930.7,127.3 M906.7,50.3 L925.7,50.3 C944.7,50.3 948.7,50.3 967.7,50.3 L986.7,50.3 M906.7,50.3 L925.7,50.3 C944.7,50.3 948.7,80.0 967.7,80.0 L986.7,80.0 M906.7,50.3 L925.7,50.3 C944.7,50.3 948.7,106.0 967.7,106.0 L986.7,106.0 M906.7,50.3 L925.7,50.3 C944.7,50.3 948.7,127.3 967.7,127.3 L986.7,127.3 M906.7,80.0 L925.7,80.0 C944.7,80.0 948.7,50.3 967.7,50.3 L986.7,50.3 M906.7,80.0 L925.7,80.0 C944.7,80.0 948.7,80.0 967.7,80.0 L986.7,80.0 M906.7,80.0 L925.7,80.0 C944.7,80.0 948.7,106.0 967.7,106.0 L986.7,106.0 M906.7,80.0 L925.7,80.0 C944.7,80.0 948.7,127.3 967.7,127.3 L986.7,127.3 M906.7,106.0 L925.7,106.0 C944.7,106.0 948.7,50.3 967.7,50.3 L986.7,50.3 M906.7,106.0 L925.7,106.0 C944.7,106.0 948.7,80.0 967.7,80.0 L986.7,80.0 M906.7,106.0 L925.7,106.0 C944.7,106.0 948.7,106.0 967.7,106.0 L986.7,106.0 M906.7,106.0 L925.7,106.0 C944.7,106.0 948.7,127.3 967.7,127.3 L986.7,127.3 M906.7,127.3 L925.7,127.3 C944.7,127.3 948.7,50.3 967.7,50.3 L986.7,50.3 M906.7,127.3 L925.7,127.3 C944.7,127.3 948.7,80.0 967.7,80.0 L986.7,80.0 M906.7,127.3 L925.7,127.3 C944.7,127.3 948.7,106.0 967.7,106.0 L986.7,106.0 M906.7,127.3 L925.7,127.3 C944.7,127.3 948.7,127.3 967.7,127.3 L986.7,127.3" stroke="#3a5ab4" stroke-width="1.2" stroke-opacity="0.22" fill="none" filter="url(#bl1)"/><g fill="#4a58b0" fill-opacity="0.4" filter="url(#bl1)"><circle cx="834.7" cy="65.2" r="1.55"/><circle cx="838.3" cy="69.7" r="1.55"/><circle cx="840.1" cy="71.7" r="1.55"/><circle cx="831.1" cy="69.7" r="1.55"/><circle cx="835.5" cy="80.0" r="1.55"/><circle cx="834.7" cy="78.2" r="1.55"/><circle cx="839.0" cy="88.3" r="1.55"/><circle cx="836.6" cy="82.6" r="1.55"/><circle cx="840.8" cy="91.9" r="1.55"/><circle cx="829.3" cy="71.7" r="1.55"/><circle cx="832.0" cy="80.0" r="1.55"/><circle cx="836.6" cy="95.1" r="1.55"/><circle cx="832.8" cy="82.6" r="1.55"/><circle cx="835.6" cy="91.9" r="1.55"/><circle cx="840.1" cy="106.0" r="1.55"/><circle cx="834.7" cy="88.8" r="1.55"/><circle cx="837.5" cy="98.0" r="1.55"/><circle cx="841.8" cy="110.6" r="1.55"/><circle cx="833.9" cy="80.0" r="1.55"/><circle cx="837.4" cy="80.0" r="1.55"/><circle cx="830.4" cy="88.3" r="1.55"/><circle cx="834.7" cy="93.0" r="1.55"/><circle cx="833.8" cy="91.9" r="1.55"/><circle cx="838.1" cy="96.8" r="1.55"/><circle cx="828.6" cy="91.9" r="1.55"/><circle cx="831.3" cy="96.8" r="1.55"/><circle cx="835.8" cy="106.0" r="1.55"/><circle cx="831.9" cy="98.0" r="1.55"/><circle cx="834.7" cy="103.7" r="1.55"/><circle cx="839.2" cy="112.6" r="1.55"/><circle cx="832.8" cy="95.1" r="1.55"/><circle cx="829.3" cy="106.0" r="1.55"/><circle cx="833.6" cy="106.0" r="1.55"/><circle cx="827.6" cy="110.6" r="1.55"/><circle cx="830.2" cy="112.6" r="1.55"/><circle cx="834.7" cy="116.7" r="1.55"/><circle cx="890.7" cy="65.2" r="1.55"/><circle cx="894.3" cy="69.7" r="1.55"/><circle cx="896.1" cy="71.7" r="1.55"/><circle cx="887.1" cy="69.7" r="1.55"/><circle cx="891.5" cy="80.0" r="1.55"/><circle cx="890.7" cy="78.2" r="1.55"/><circle cx="895.0" cy="88.3" r="1.55"/><circle cx="892.6" cy="82.6" r="1.55"/><circle cx="896.8" cy="91.9" r="1.55"/><circle cx="885.3" cy="71.7" r="1.55"/><circle cx="888.0" cy="80.0" r="1.55"/><circle cx="892.6" cy="95.1" r="1.55"/><circle cx="888.8" cy="82.6" r="1.55"/><circle cx="891.6" cy="91.9" r="1.55"/><circle cx="896.1" cy="106.0" r="1.55"/><circle cx="890.7" cy="88.8" r="1.55"/><circle cx="893.5" cy="98.0" r="1.55"/><circle cx="897.8" cy="110.6" r="1.55"/><circle cx="889.9" cy="80.0" r="1.55"/><circle cx="893.4" cy="80.0" r="1.55"/><circle cx="886.4" cy="88.3" r="1.55"/><circle cx="890.7" cy="93.0" r="1.55"/><circle cx="889.8" cy="91.9" r="1.55"/><circle cx="894.1" cy="96.8" r="1.55"/><circle cx="884.6" cy="91.9" r="1.55"/><circle cx="887.3" cy="96.8" r="1.55"/><circle cx="891.8" cy="106.0" r="1.55"/><circle cx="887.9" cy="98.0" r="1.55"/><circle cx="890.7" cy="103.7" r="1.55"/><circle cx="895.2" cy="112.6" r="1.55"/><circle cx="888.8" cy="95.1" r="1.55"/><circle cx="885.3" cy="106.0" r="1.55"/><circle cx="889.6" cy="106.0" r="1.55"/><circle cx="883.6" cy="110.6" r="1.55"/><circle cx="886.2" cy="112.6" r="1.55"/><circle cx="890.7" cy="116.7" r="1.55"/><circle cx="946.7" cy="65.2" r="1.55"/><circle cx="950.3" cy="69.7" r="1.55"/><circle cx="952.1" cy="71.7" r="1.55"/><circle cx="943.1" cy="69.7" r="1.55"/><circle cx="947.5" cy="80.0" r="1.55"/><circle cx="946.7" cy="78.2" r="1.55"/><circle cx="951.0" cy="88.3" r="1.55"/><circle cx="948.6" cy="82.6" r="1.55"/><circle cx="952.8" cy="91.9" r="1.55"/><circle cx="941.3" cy="71.7" r="1.55"/><circle cx="944.0" cy="80.0" r="1.55"/><circle cx="948.6" cy="95.1" r="1.55"/><circle cx="944.8" cy="82.6" r="1.55"/><circle cx="947.6" cy="91.9" r="1.55"/><circle cx="952.1" cy="106.0" r="1.55"/><circle cx="946.7" cy="88.8" r="1.55"/><circle cx="949.5" cy="98.0" r="1.55"/><circle cx="953.8" cy="110.6" r="1.55"/><circle cx="945.9" cy="80.0" r="1.55"/><circle cx="949.4" cy="80.0" r="1.55"/><circle cx="942.4" cy="88.3" r="1.55"/><circle cx="946.7" cy="93.0" r="1.55"/><circle cx="945.8" cy="91.9" r="1.55"/><circle cx="950.1" cy="96.8" r="1.55"/><circle cx="940.6" cy="91.9" r="1.55"/><circle cx="943.3" cy="96.8" r="1.55"/><circle cx="947.8" cy="106.0" r="1.55"/><circle cx="943.9" cy="98.0" r="1.55"/><circle cx="946.7" cy="103.7" r="1.55"/><circle cx="951.2" cy="112.6" r="1.55"/><circle cx="944.8" cy="95.1" r="1.55"/><circle cx="941.3" cy="106.0" r="1.55"/><circle cx="945.6" cy="106.0" r="1.55"/><circle cx="939.6" cy="110.6" r="1.55"/><circle cx="942.2" cy="112.6" r="1.55"/><circle cx="946.7" cy="116.7" r="1.55"/></g><ellipse cx="806.7" cy="65.7" rx="12.3" ry="8.6" fill="#ffffff" filter="url(#bl1)"/><ellipse cx="806.7" cy="93.7" rx="12.0" ry="7.6" fill="#ffffff" filter="url(#bl1)"/><ellipse cx="806.7" cy="117.4" rx="12.3" ry="6.8" fill="#ffffff" filter="url(#bl1)"/><ellipse cx="806.7" cy="50.3" rx="9.8" ry="3.3" fill="#7a2c8e" filter="url(#bl1)"/><ellipse cx="806.7" cy="50.3" rx="4" ry="1.2" fill="#c03a70" filter="url(#bl1)"/><ellipse cx="806.7" cy="80.0" rx="9.8" ry="3.3" fill="#842a88" filter="url(#bl1)"/><ellipse cx="806.7" cy="80.0" rx="4" ry="1.2" fill="#d04860" filter="url(#bl1)"/><ellipse cx="806.7" cy="106.0" rx="9.8" ry="3.3" fill="#9c2c74" filter="url(#bl1)"/><ellipse cx="806.7" cy="106.0" rx="4.6" ry="1.4" fill="#f39030" filter="url(#bl1)"/><path d="M793.7,123.7 Q806.7,131.7 819.7,123.7" stroke="#9c2a6e" stroke-width="4.0" fill="none" filter="url(#bl1)"/><path d="M799.7,126.4 Q806.7,129.0 813.7,126.4" stroke="#f7a030" stroke-width="1.7" fill="none" filter="url(#bl1)"/><ellipse cx="862.7" cy="65.7" rx="12.3" ry="8.6" fill="#ffffff" filter="url(#bl1)"/><ellipse cx="862.7" cy="93.7" rx="12.0" ry="7.6" fill="#ffffff" filter="url(#bl1)"/><ellipse cx="862.7" cy="117.4" rx="12.3" ry="6.8" fill="#ffffff" filter="url(#bl1)"/><ellipse cx="862.7" cy="50.3" rx="9.8" ry="3.3" fill="#7a2c8e" filter="url(#bl1)"/><ellipse cx="862.7" cy="50.3" rx="4" ry="1.2" fill="#c03a70" filter="url(#bl1)"/><ellipse cx="862.7" cy="80.0" rx="9.8" ry="3.3" fill="#842a88" filter="url(#bl1)"/><ellipse cx="862.7" cy="80.0" rx="4" ry="1.2" fill="#d04860" filter="url(#bl1)"/><ellipse cx="862.7" cy="106.0" rx="9.8" ry="3.3" fill="#9c2c74" filter="url(#bl1)"/><ellipse cx="862.7" cy="106.0" rx="4.6" ry="1.4" fill="#f39030" filter="url(#bl1)"/><path d="M849.7,123.7 Q862.7,131.7 875.7,123.7" stroke="#9c2a6e" stroke-width="4.0" fill="none" filter="url(#bl1)"/><path d="M855.7,126.4 Q862.7,129.0 869.7,126.4" stroke="#f7a030" stroke-width="1.7" fill="none" filter="url(#bl1)"/><ellipse cx="918.7" cy="65.7" rx="12.3" ry="8.6" fill="#ffffff" filter="url(#bl1)"/><ellipse cx="918.7" cy="93.7" rx="12.0" ry="7.6" fill="#ffffff" filter="url(#bl1)"/><ellipse cx="918.7" cy="117.4" rx="12.3" ry="6.8" fill="#ffffff" filter="url(#bl1)"/><ellipse cx="918.7" cy="50.3" rx="9.8" ry="3.3" fill="#7a2c8e" filter="url(#bl1)"/><ellipse cx="918.7" cy="50.3" rx="4" ry="1.2" fill="#c03a70" filter="url(#bl1)"/><ellipse cx="918.7" cy="80.0" rx="9.8" ry="3.3" fill="#842a88" filter="url(#bl1)"/><ellipse cx="918.7" cy="80.0" rx="4" ry="1.2" fill="#d04860" filter="url(#bl1)"/><ellipse cx="918.7" cy="106.0" rx="9.8" ry="3.3" fill="#9c2c74" filter="url(#bl1)"/><ellipse cx="918.7" cy="106.0" rx="4.6" ry="1.4" fill="#f39030" filter="url(#bl1)"/><path d="M905.7,123.7 Q918.7,131.7 931.7,123.7" stroke="#9c2a6e" stroke-width="4.0" fill="none" filter="url(#bl1)"/><path d="M911.7,126.4 Q918.7,129.0 925.7,126.4" stroke="#f7a030" stroke-width="1.7" fill="none" filter="url(#bl1)"/><ellipse cx="974.7" cy="65.7" rx="12.3" ry="8.6" fill="#ffffff" filter="url(#bl1)"/><ellipse cx="974.7" cy="93.7" rx="12.0" ry="7.6" fill="#ffffff" filter="url(#bl1)"/><ellipse cx="974.7" cy="117.4" rx="12.3" ry="6.8" fill="#ffffff" filter="url(#bl1)"/><ellipse cx="974.7" cy="50.3" rx="9.8" ry="3.3" fill="#7a2c8e" filter="url(#bl1)"/><ellipse cx="974.7" cy="50.3" rx="4" ry="1.2" fill="#c03a70" filter="url(#bl1)"/><ellipse cx="974.7" cy="80.0" rx="9.8" ry="3.3" fill="#842a88" filter="url(#bl1)"/><ellipse cx="974.7" cy="80.0" rx="4" ry="1.2" fill="#d04860" filter="url(#bl1)"/><ellipse cx="974.7" cy="106.0" rx="9.8" ry="3.3" fill="#9c2c74" filter="url(#bl1)"/><ellipse cx="974.7" cy="106.0" rx="4.6" ry="1.4" fill="#f39030" filter="url(#bl1)"/><path d="M961.7,123.7 Q974.7,131.7 987.7,123.7" stroke="#9c2a6e" stroke-width="4.0" fill="none" filter="url(#bl1)"/><path d="M967.7,126.4 Q974.7,129.0 981.7,126.4" stroke="#f7a030" stroke-width="1.7" fill="none" filter="url(#bl1)"/></g><g clip-path="url(#eclip1)"><rect x="812.1" y="150.2" width="168.4" height="103.2" fill="url(#eg)"/><path d="M795.8,164.2 L814.8,164.2 C833.8,164.2 837.8,164.2 856.8,164.2 L875.8,164.2 M795.8,164.2 L814.8,164.2 C833.8,164.2 837.8,193.9 856.8,193.9 L875.8,193.9 M795.8,164.2 L814.8,164.2 C833.8,164.2 837.8,220.3 856.8,220.3 L875.8,220.3 M795.8,164.2 L814.8,164.2 C833.8,164.2 837.8,243.4 856.8,243.4 L875.8,243.4 M795.8,193.9 L814.8,193.9 C833.8,193.9 837.8,164.2 856.8,164.2 L875.8,164.2 M795.8,193.9 L814.8,193.9 C833.8,193.9 837.8,193.9 856.8,193.9 L875.8,193.9 M795.8,193.9 L814.8,193.9 C833.8,193.9 837.8,220.3 856.8,220.3 L875.8,220.3 M795.8,193.9 L814.8,193.9 C833.8,193.9 837.8,243.4 856.8,243.4 L875.8,243.4 M795.8,220.3 L814.8,220.3 C833.8,220.3 837.8,164.2 856.8,164.2 L875.8,164.2 M795.8,220.3 L814.8,220.3 C833.8,220.3 837.8,193.9 856.8,193.9 L875.8,193.9 M795.8,220.3 L814.8,220.3 C833.8,220.3 837.8,220.3 856.8,220.3 L875.8,220.3 M795.8,220.3 L814.8,220.3 C833.8,220.3 837.8,243.4 856.8,243.4 L875.8,243.4 M795.8,243.4 L814.8,243.4 C833.8,243.4 837.8,164.2 856.8,164.2 L875.8,164.2 M795.8,243.4 L814.8,243.4 C833.8,243.4 837.8,193.9 856.8,193.9 L875.8,193.9 M795.8,243.4 L814.8,243.4 C833.8,243.4 837.8,220.3 856.8,220.3 L875.8,220.3 M795.8,243.4 L814.8,243.4 C833.8,243.4 837.8,243.4 856.8,243.4 L875.8,243.4 M851.8,164.2 L870.8,164.2 C889.8,164.2 893.8,164.2 912.8,164.2 L931.8,164.2 M851.8,164.2 L870.8,164.2 C889.8,164.2 893.8,193.9 912.8,193.9 L931.8,193.9 M851.8,164.2 L870.8,164.2 C889.8,164.2 893.8,220.3 912.8,220.3 L931.8,220.3 M851.8,164.2 L870.8,164.2 C889.8,164.2 893.8,243.4 912.8,243.4 L931.8,243.4 M851.8,193.9 L870.8,193.9 C889.8,193.9 893.8,164.2 912.8,164.2 L931.8,164.2 M851.8,193.9 L870.8,193.9 C889.8,193.9 893.8,193.9 912.8,193.9 L931.8,193.9 M851.8,193.9 L870.8,193.9 C889.8,193.9 893.8,220.3 912.8,220.3 L931.8,220.3 M851.8,193.9 L870.8,193.9 C889.8,193.9 893.8,243.4 912.8,243.4 L931.8,243.4 M851.8,220.3 L870.8,220.3 C889.8,220.3 893.8,164.2 912.8,164.2 L931.8,164.2 M851.8,220.3 L870.8,220.3 C889.8,220.3 893.8,193.9 912.8,193.9 L931.8,193.9 M851.8,220.3 L870.8,220.3 C889.8,220.3 893.8,220.3 912.8,220.3 L931.8,220.3 M851.8,220.3 L870.8,220.3 C889.8,220.3 893.8,243.4 912.8,243.4 L931.8,243.4 M851.8,243.4 L870.8,243.4 C889.8,243.4 893.8,164.2 912.8,164.2 L931.8,164.2 M851.8,243.4 L870.8,243.4 C889.8,243.4 893.8,193.9 912.8,193.9 L931.8,193.9 M851.8,243.4 L870.8,243.4 C889.8,243.4 893.8,220.3 912.8,220.3 L931.8,220.3 M851.8,243.4 L870.8,243.4 C889.8,243.4 893.8,243.4 912.8,243.4 L931.8,243.4 M907.8,164.2 L926.8,164.2 C945.8,164.2 949.8,164.2 968.8,164.2 L987.8,164.2 M907.8,164.2 L926.8,164.2 C945.8,164.2 949.8,193.9 968.8,193.9 L987.8,193.9 M907.8,164.2 L926.8,164.2 C945.8,164.2 949.8,220.3 968.8,220.3 L987.8,220.3 M907.8,164.2 L926.8,164.2 C945.8,164.2 949.8,243.4 968.8,243.4 L987.8,243.4 M907.8,193.9 L926.8,193.9 C945.8,193.9 949.8,164.2 968.8,164.2 L987.8,164.2 M907.8,193.9 L926.8,193.9 C945.8,193.9 949.8,193.9 968.8,193.9 L987.8,193.9 M907.8,193.9 L926.8,193.9 C945.8,193.9 949.8,220.3 968.8,220.3 L987.8,220.3 M907.8,193.9 L926.8,193.9 C945.8,193.9 949.8,243.4 968.8,243.4 L987.8,243.4 M907.8,220.3 L926.8,220.3 C945.8,220.3 949.8,164.2 968.8,164.2 L987.8,164.2 M907.8,220.3 L926.8,220.3 C945.8,220.3 949.8,193.9 968.8,193.9 L987.8,193.9 M907.8,220.3 L926.8,220.3 C945.8,220.3 949.8,220.3 968.8,220.3 L987.8,220.3 M907.8,220.3 L926.8,220.3 C945.8,220.3 949.8,243.4 968.8,243.4 L987.8,243.4 M907.8,243.4 L926.8,243.4 C945.8,243.4 949.8,164.2 968.8,164.2 L987.8,164.2 M907.8,243.4 L926.8,243.4 C945.8,243.4 949.8,193.9 968.8,193.9 L987.8,193.9 M907.8,243.4 L926.8,243.4 C945.8,243.4 949.8,220.3 968.8,220.3 L987.8,220.3 M907.8,243.4 L926.8,243.4 C945.8,243.4 949.8,243.4 968.8,243.4 L987.8,243.4" stroke="#128ed8" stroke-width="3.0" stroke-opacity="0.66" fill="none" filter="url(#grain)"/><path d="M795.8,164.2 L814.8,164.2 C833.8,164.2 837.8,164.2 856.8,164.2 L875.8,164.2 M795.8,164.2 L814.8,164.2 C833.8,164.2 837.8,193.9 856.8,193.9 L875.8,193.9 M795.8,164.2 L814.8,164.2 C833.8,164.2 837.8,220.3 856.8,220.3 L875.8,220.3 M795.8,164.2 L814.8,164.2 C833.8,164.2 837.8,243.4 856.8,243.4 L875.8,243.4 M795.8,193.9 L814.8,193.9 C833.8,193.9 837.8,164.2 856.8,164.2 L875.8,164.2 M795.8,193.9 L814.8,193.9 C833.8,193.9 837.8,193.9 856.8,193.9 L875.8,193.9 M795.8,193.9 L814.8,193.9 C833.8,193.9 837.8,220.3 856.8,220.3 L875.8,220.3 M795.8,193.9 L814.8,193.9 C833.8,193.9 837.8,243.4 856.8,243.4 L875.8,243.4 M795.8,220.3 L814.8,220.3 C833.8,220.3 837.8,164.2 856.8,164.2 L875.8,164.2 M795.8,220.3 L814.8,220.3 C833.8,220.3 837.8,193.9 856.8,193.9 L875.8,193.9 M795.8,220.3 L814.8,220.3 C833.8,220.3 837.8,220.3 856.8,220.3 L875.8,220.3 M795.8,220.3 L814.8,220.3 C833.8,220.3 837.8,243.4 856.8,243.4 L875.8,243.4 M795.8,243.4 L814.8,243.4 C833.8,243.4 837.8,164.2 856.8,164.2 L875.8,164.2 M795.8,243.4 L814.8,243.4 C833.8,243.4 837.8,193.9 856.8,193.9 L875.8,193.9 M795.8,243.4 L814.8,243.4 C833.8,243.4 837.8,220.3 856.8,220.3 L875.8,220.3 M795.8,243.4 L814.8,243.4 C833.8,243.4 837.8,243.4 856.8,243.4 L875.8,243.4 M851.8,164.2 L870.8,164.2 C889.8,164.2 893.8,164.2 912.8,164.2 L931.8,164.2 M851.8,164.2 L870.8,164.2 C889.8,164.2 893.8,193.9 912.8,193.9 L931.8,193.9 M851.8,164.2 L870.8,164.2 C889.8,164.2 893.8,220.3 912.8,220.3 L931.8,220.3 M851.8,164.2 L870.8,164.2 C889.8,164.2 893.8,243.4 912.8,243.4 L931.8,243.4 M851.8,193.9 L870.8,193.9 C889.8,193.9 893.8,164.2 912.8,164.2 L931.8,164.2 M851.8,193.9 L870.8,193.9 C889.8,193.9 893.8,193.9 912.8,193.9 L931.8,193.9 M851.8,193.9 L870.8,193.9 C889.8,193.9 893.8,220.3 912.8,220.3 L931.8,220.3 M851.8,193.9 L870.8,193.9 C889.8,193.9 893.8,243.4 912.8,243.4 L931.8,243.4 M851.8,220.3 L870.8,220.3 C889.8,220.3 893.8,164.2 912.8,164.2 L931.8,164.2 M851.8,220.3 L870.8,220.3 C889.8,220.3 893.8,193.9 912.8,193.9 L931.8,193.9 M851.8,220.3 L870.8,220.3 C889.8,220.3 893.8,220.3 912.8,220.3 L931.8,220.3 M851.8,220.3 L870.8,220.3 C889.8,220.3 893.8,243.4 912.8,243.4 L931.8,243.4 M851.8,243.4 L870.8,243.4 C889.8,243.4 893.8,164.2 912.8,164.2 L931.8,164.2 M851.8,243.4 L870.8,243.4 C889.8,243.4 893.8,193.9 912.8,193.9 L931.8,193.9 M851.8,243.4 L870.8,243.4 C889.8,243.4 893.8,220.3 912.8,220.3 L931.8,220.3 M851.8,243.4 L870.8,243.4 C889.8,243.4 893.8,243.4 912.8,243.4 L931.8,243.4 M907.8,164.2 L926.8,164.2 C945.8,164.2 949.8,164.2 968.8,164.2 L987.8,164.2 M907.8,164.2 L926.8,164.2 C945.8,164.2 949.8,193.9 968.8,193.9 L987.8,193.9 M907.8,164.2 L926.8,164.2 C945.8,164.2 949.8,220.3 968.8,220.3 L987.8,220.3 M907.8,164.2 L926.8,164.2 C945.8,164.2 949.8,243.4 968.8,243.4 L987.8,243.4 M907.8,193.9 L926.8,193.9 C945.8,193.9 949.8,164.2 968.8,164.2 L987.8,164.2 M907.8,193.9 L926.8,193.9 C945.8,193.9 949.8,193.9 968.8,193.9 L987.8,193.9 M907.8,193.9 L926.8,193.9 C945.8,193.9 949.8,220.3 968.8,220.3 L987.8,220.3 M907.8,193.9 L926.8,193.9 C945.8,193.9 949.8,243.4 968.8,243.4 L987.8,243.4 M907.8,220.3 L926.8,220.3 C945.8,220.3 949.8,164.2 968.8,164.2 L987.8,164.2 M907.8,220.3 L926.8,220.3 C945.8,220.3 949.8,193.9 968.8,193.9 L987.8,193.9 M907.8,220.3 L926.8,220.3 C945.8,220.3 949.8,220.3 968.8,220.3 L987.8,220.3 M907.8,220.3 L926.8,220.3 C945.8,220.3 949.8,243.4 968.8,243.4 L987.8,243.4 M907.8,243.4 L926.8,243.4 C945.8,243.4 949.8,164.2 968.8,164.2 L987.8,164.2 M907.8,243.4 L926.8,243.4 C945.8,243.4 949.8,193.9 968.8,193.9 L987.8,193.9 M907.8,243.4 L926.8,243.4 C945.8,243.4 949.8,220.3 968.8,220.3 L987.8,220.3 M907.8,243.4 L926.8,243.4 C945.8,243.4 949.8,243.4 968.8,243.4 L987.8,243.4" stroke="#3a5ab4" stroke-width="1.2" stroke-opacity="0.22" fill="none" filter="url(#bl1)"/><g fill="#4a58b0" fill-opacity="0.4" filter="url(#bl1)"><circle cx="835.8" cy="179.1" r="1.55"/><circle cx="839.4" cy="183.6" r="1.55"/><circle cx="841.3" cy="185.8" r="1.55"/><circle cx="832.2" cy="183.6" r="1.55"/><circle cx="836.5" cy="193.9" r="1.55"/><circle cx="835.8" cy="192.2" r="1.55"/><circle cx="840.1" cy="202.3" r="1.55"/><circle cx="837.8" cy="197.0" r="1.55"/><circle cx="841.9" cy="206.3" r="1.55"/><circle cx="830.3" cy="185.8" r="1.55"/><circle cx="832.9" cy="193.9" r="1.55"/><circle cx="837.2" cy="208.8" r="1.55"/><circle cx="833.8" cy="197.0" r="1.55"/><circle cx="836.5" cy="206.3" r="1.55"/><circle cx="840.8" cy="220.3" r="1.55"/><circle cx="835.8" cy="203.8" r="1.55"/><circle cx="838.5" cy="212.9" r="1.55"/><circle cx="842.6" cy="225.5" r="1.55"/><circle cx="835.1" cy="193.9" r="1.55"/><circle cx="838.7" cy="193.9" r="1.55"/><circle cx="831.5" cy="202.3" r="1.55"/><circle cx="835.8" cy="207.1" r="1.55"/><circle cx="835.1" cy="206.3" r="1.55"/><circle cx="839.4" cy="211.1" r="1.55"/><circle cx="829.7" cy="206.3" r="1.55"/><circle cx="832.2" cy="211.1" r="1.55"/><circle cx="836.6" cy="220.3" r="1.55"/><circle cx="833.1" cy="212.9" r="1.55"/><circle cx="835.8" cy="218.7" r="1.55"/><circle cx="840.1" cy="227.7" r="1.55"/><circle cx="834.4" cy="208.8" r="1.55"/><circle cx="830.8" cy="220.3" r="1.55"/><circle cx="835.0" cy="220.3" r="1.55"/><circle cx="829.0" cy="225.5" r="1.55"/><circle cx="831.5" cy="227.7" r="1.55"/><circle cx="835.8" cy="231.9" r="1.55"/><circle cx="891.8" cy="179.1" r="1.55"/><circle cx="895.4" cy="183.6" r="1.55"/><circle cx="897.3" cy="185.8" r="1.55"/><circle cx="888.2" cy="183.6" r="1.55"/><circle cx="892.5" cy="193.9" r="1.55"/><circle cx="891.8" cy="192.2" r="1.55"/><circle cx="896.1" cy="202.3" r="1.55"/><circle cx="893.8" cy="197.0" r="1.55"/><circle cx="897.9" cy="206.3" r="1.55"/><circle cx="886.3" cy="185.8" r="1.55"/><circle cx="888.9" cy="193.9" r="1.55"/><circle cx="893.2" cy="208.8" r="1.55"/><circle cx="889.8" cy="197.0" r="1.55"/><circle cx="892.5" cy="206.3" r="1.55"/><circle cx="896.8" cy="220.3" r="1.55"/><circle cx="891.8" cy="203.8" r="1.55"/><circle cx="894.5" cy="212.9" r="1.55"/><circle cx="898.6" cy="225.5" r="1.55"/><circle cx="891.1" cy="193.9" r="1.55"/><circle cx="894.7" cy="193.9" r="1.55"/><circle cx="887.5" cy="202.3" r="1.55"/><circle cx="891.8" cy="207.1" r="1.55"/><circle cx="891.1" cy="206.3" r="1.55"/><circle cx="895.4" cy="211.1" r="1.55"/><circle cx="885.7" cy="206.3" r="1.55"/><circle cx="888.2" cy="211.1" r="1.55"/><circle cx="892.6" cy="220.3" r="1.55"/><circle cx="889.1" cy="212.9" r="1.55"/><circle cx="891.8" cy="218.7" r="1.55"/><circle cx="896.1" cy="227.7" r="1.55"/><circle cx="890.4" cy="208.8" r="1.55"/><circle cx="886.8" cy="220.3" r="1.55"/><circle cx="891.0" cy="220.3" r="1.55"/><circle cx="885.0" cy="225.5" r="1.55"/><circle cx="887.5" cy="227.7" r="1.55"/><circle cx="891.8" cy="231.9" r="1.55"/><circle cx="947.8" cy="179.1" r="1.55"/><circle cx="951.4" cy="183.6" r="1.55"/><circle cx="953.3" cy="185.8" r="1.55"/><circle cx="944.2" cy="183.6" r="1.55"/><circle cx="948.5" cy="193.9" r="1.55"/><circle cx="947.8" cy="192.2" r="1.55"/><circle cx="952.1" cy="202.3" r="1.55"/><circle cx="949.8" cy="197.0" r="1.55"/><circle cx="953.9" cy="206.3" r="1.55"/><circle cx="942.3" cy="185.8" r="1.55"/><circle cx="944.9" cy="193.9" r="1.55"/><circle cx="949.2" cy="208.8" r="1.55"/><circle cx="945.8" cy="197.0" r="1.55"/><circle cx="948.5" cy="206.3" r="1.55"/><circle cx="952.8" cy="220.3" r="1.55"/><circle cx="947.8" cy="203.8" r="1.55"/><circle cx="950.5" cy="212.9" r="1.55"/><circle cx="954.6" cy="225.5" r="1.55"/><circle cx="947.1" cy="193.9" r="1.55"/><circle cx="950.7" cy="193.9" r="1.55"/><circle cx="943.5" cy="202.3" r="1.55"/><circle cx="947.8" cy="207.1" r="1.55"/><circle cx="947.1" cy="206.3" r="1.55"/><circle cx="951.4" cy="211.1" r="1.55"/><circle cx="941.7" cy="206.3" r="1.55"/><circle cx="944.2" cy="211.1" r="1.55"/><circle cx="948.6" cy="220.3" r="1.55"/><circle cx="945.1" cy="212.9" r="1.55"/><circle cx="947.8" cy="218.7" r="1.55"/><circle cx="952.1" cy="227.7" r="1.55"/><circle cx="946.4" cy="208.8" r="1.55"/><circle cx="942.8" cy="220.3" r="1.55"/><circle cx="947.0" cy="220.3" r="1.55"/><circle cx="941.0" cy="225.5" r="1.55"/><circle cx="943.5" cy="227.7" r="1.55"/><circle cx="947.8" cy="231.9" r="1.55"/></g><ellipse cx="807.8" cy="179.6" rx="12.3" ry="8.6" fill="#ffffff" filter="url(#bl1)"/><ellipse cx="807.8" cy="208.2" rx="12.0" ry="7.6" fill="#ffffff" filter="url(#bl1)"/><ellipse cx="807.8" cy="232.4" rx="12.3" ry="6.8" fill="#ffffff" filter="url(#bl1)"/><ellipse cx="807.8" cy="164.2" rx="9.8" ry="3.3" fill="#7a2c8e" filter="url(#bl1)"/><ellipse cx="807.8" cy="164.2" rx="4" ry="1.2" fill="#c03a70" filter="url(#bl1)"/><ellipse cx="807.8" cy="193.9" rx="9.8" ry="3.3" fill="#842a88" filter="url(#bl1)"/><ellipse cx="807.8" cy="193.9" rx="4" ry="1.2" fill="#d04860" filter="url(#bl1)"/><ellipse cx="807.8" cy="220.3" rx="9.8" ry="3.3" fill="#9c2c74" filter="url(#bl1)"/><ellipse cx="807.8" cy="220.3" rx="4.6" ry="1.4" fill="#f39030" filter="url(#bl1)"/><path d="M794.8,239.8 Q807.8,247.8 820.8,239.8" stroke="#9c2a6e" stroke-width="4.0" fill="none" filter="url(#bl1)"/><path d="M800.8,242.5 Q807.8,245.1 814.8,242.5" stroke="#f7a030" stroke-width="1.7" fill="none" filter="url(#bl1)"/><ellipse cx="863.8" cy="179.6" rx="12.3" ry="8.6" fill="#ffffff" filter="url(#bl1)"/><ellipse cx="863.8" cy="208.2" rx="12.0" ry="7.6" fill="#ffffff" filter="url(#bl1)"/><ellipse cx="863.8" cy="232.4" rx="12.3" ry="6.8" fill="#ffffff" filter="url(#bl1)"/><ellipse cx="863.8" cy="164.2" rx="9.8" ry="3.3" fill="#7a2c8e" filter="url(#bl1)"/><ellipse cx="863.8" cy="164.2" rx="4" ry="1.2" fill="#c03a70" filter="url(#bl1)"/><ellipse cx="863.8" cy="193.9" rx="9.8" ry="3.3" fill="#842a88" filter="url(#bl1)"/><ellipse cx="863.8" cy="193.9" rx="4" ry="1.2" fill="#d04860" filter="url(#bl1)"/><ellipse cx="863.8" cy="220.3" rx="9.8" ry="3.3" fill="#9c2c74" filter="url(#bl1)"/><ellipse cx="863.8" cy="220.3" rx="4.6" ry="1.4" fill="#f39030" filter="url(#bl1)"/><path d="M850.8,239.8 Q863.8,247.8 876.8,239.8" stroke="#9c2a6e" stroke-width="4.0" fill="none" filter="url(#bl1)"/><path d="M856.8,242.5 Q863.8,245.1 870.8,242.5" stroke="#f7a030" stroke-width="1.7" fill="none" filter="url(#bl1)"/><ellipse cx="919.8" cy="179.6" rx="12.3" ry="8.6" fill="#ffffff" filter="url(#bl1)"/><ellipse cx="919.8" cy="208.2" rx="12.0" ry="7.6" fill="#ffffff" filter="url(#bl1)"/><ellipse cx="919.8" cy="232.4" rx="12.3" ry="6.8" fill="#ffffff" filter="url(#bl1)"/><ellipse cx="919.8" cy="164.2" rx="9.8" ry="3.3" fill="#7a2c8e" filter="url(#bl1)"/><ellipse cx="919.8" cy="164.2" rx="4" ry="1.2" fill="#c03a70" filter="url(#bl1)"/><ellipse cx="919.8" cy="193.9" rx="9.8" ry="3.3" fill="#842a88" filter="url(#bl1)"/><ellipse cx="919.8" cy="193.9" rx="4" ry="1.2" fill="#d04860" filter="url(#bl1)"/><ellipse cx="919.8" cy="220.3" rx="9.8" ry="3.3" fill="#9c2c74" filter="url(#bl1)"/><ellipse cx="919.8" cy="220.3" rx="4.6" ry="1.4" fill="#f39030" filter="url(#bl1)"/><path d="M906.8,239.8 Q919.8,247.8 932.8,239.8" stroke="#9c2a6e" stroke-width="4.0" fill="none" filter="url(#bl1)"/><path d="M912.8,242.5 Q919.8,245.1 926.8,242.5" stroke="#f7a030" stroke-width="1.7" fill="none" filter="url(#bl1)"/><ellipse cx="975.8" cy="179.6" rx="12.3" ry="8.6" fill="#ffffff" filter="url(#bl1)"/><ellipse cx="975.8" cy="208.2" rx="12.0" ry="7.6" fill="#ffffff" filter="url(#bl1)"/><ellipse cx="975.8" cy="232.4" rx="12.3" ry="6.8" fill="#ffffff" filter="url(#bl1)"/><ellipse cx="975.8" cy="164.2" rx="9.8" ry="3.3" fill="#7a2c8e" filter="url(#bl1)"/><ellipse cx="975.8" cy="164.2" rx="4" ry="1.2" fill="#c03a70" filter="url(#bl1)"/><ellipse cx="975.8" cy="193.9" rx="9.8" ry="3.3" fill="#842a88" filter="url(#bl1)"/><ellipse cx="975.8" cy="193.9" rx="4" ry="1.2" fill="#d04860" filter="url(#bl1)"/><ellipse cx="975.8" cy="220.3" rx="9.8" ry="3.3" fill="#9c2c74" filter="url(#bl1)"/><ellipse cx="975.8" cy="220.3" rx="4.6" ry="1.4" fill="#f39030" filter="url(#bl1)"/><path d="M962.8,239.8 Q975.8,247.8 988.8,239.8" stroke="#9c2a6e" stroke-width="4.0" fill="none" filter="url(#bl1)"/><path d="M968.8,242.5 Q975.8,245.1 982.8,242.5" stroke="#f7a030" stroke-width="1.7" fill="none" filter="url(#bl1)"/></g><g clip-path="url(#eclip2)"><rect x="812.1" y="264.7" width="168.4" height="105.8" fill="url(#eg)"/><path d="M799.1,278.7 L818.1,278.7 C837.1,278.7 841.1,278.7 860.1,278.7 L879.1,278.7 M799.1,278.7 L818.1,278.7 C837.1,278.7 841.1,308.4 860.1,308.4 L879.1,308.4 M799.1,278.7 L818.1,278.7 C837.1,278.7 841.1,336.3 860.1,336.3 L879.1,336.3 M799.1,278.7 L818.1,278.7 C837.1,278.7 841.1,360.5 860.1,360.5 L879.1,360.5 M799.1,308.4 L818.1,308.4 C837.1,308.4 841.1,278.7 860.1,278.7 L879.1,278.7 M799.1,308.4 L818.1,308.4 C837.1,308.4 841.1,308.4 860.1,308.4 L879.1,308.4 M799.1,308.4 L818.1,308.4 C837.1,308.4 841.1,336.3 860.1,336.3 L879.1,336.3 M799.1,308.4 L818.1,308.4 C837.1,308.4 841.1,360.5 860.1,360.5 L879.1,360.5 M799.1,336.3 L818.1,336.3 C837.1,336.3 841.1,278.7 860.1,278.7 L879.1,278.7 M799.1,336.3 L818.1,336.3 C837.1,336.3 841.1,308.4 860.1,308.4 L879.1,308.4 M799.1,336.3 L818.1,336.3 C837.1,336.3 841.1,336.3 860.1,336.3 L879.1,336.3 M799.1,336.3 L818.1,336.3 C837.1,336.3 841.1,360.5 860.1,360.5 L879.1,360.5 M799.1,360.5 L818.1,360.5 C837.1,360.5 841.1,278.7 860.1,278.7 L879.1,278.7 M799.1,360.5 L818.1,360.5 C837.1,360.5 841.1,308.4 860.1,308.4 L879.1,308.4 M799.1,360.5 L818.1,360.5 C837.1,360.5 841.1,336.3 860.1,336.3 L879.1,336.3 M799.1,360.5 L818.1,360.5 C837.1,360.5 841.1,360.5 860.1,360.5 L879.1,360.5 M855.1,278.7 L874.1,278.7 C893.1,278.7 897.1,278.7 916.1,278.7 L935.1,278.7 M855.1,278.7 L874.1,278.7 C893.1,278.7 897.1,308.4 916.1,308.4 L935.1,308.4 M855.1,278.7 L874.1,278.7 C893.1,278.7 897.1,336.3 916.1,336.3 L935.1,336.3 M855.1,278.7 L874.1,278.7 C893.1,278.7 897.1,360.5 916.1,360.5 L935.1,360.5 M855.1,308.4 L874.1,308.4 C893.1,308.4 897.1,278.7 916.1,278.7 L935.1,278.7 M855.1,308.4 L874.1,308.4 C893.1,308.4 897.1,308.4 916.1,308.4 L935.1,308.4 M855.1,308.4 L874.1,308.4 C893.1,308.4 897.1,336.3 916.1,336.3 L935.1,336.3 M855.1,308.4 L874.1,308.4 C893.1,308.4 897.1,360.5 916.1,360.5 L935.1,360.5 M855.1,336.3 L874.1,336.3 C893.1,336.3 897.1,278.7 916.1,278.7 L935.1,278.7 M855.1,336.3 L874.1,336.3 C893.1,336.3 897.1,308.4 916.1,308.4 L935.1,308.4 M855.1,336.3 L874.1,336.3 C893.1,336.3 897.1,336.3 916.1,336.3 L935.1,336.3 M855.1,336.3 L874.1,336.3 C893.1,336.3 897.1,360.5 916.1,360.5 L935.1,360.5 M855.1,360.5 L874.1,360.5 C893.1,360.5 897.1,278.7 916.1,278.7 L935.1,278.7 M855.1,360.5 L874.1,360.5 C893.1,360.5 897.1,308.4 916.1,308.4 L935.1,308.4 M855.1,360.5 L874.1,360.5 C893.1,360.5 897.1,336.3 916.1,336.3 L935.1,336.3 M855.1,360.5 L874.1,360.5 C893.1,360.5 897.1,360.5 916.1,360.5 L935.1,360.5 M911.1,278.7 L930.1,278.7 C949.1,278.7 953.1,278.7 972.1,278.7 L991.1,278.7 M911.1,278.7 L930.1,278.7 C949.1,278.7 953.1,308.4 972.1,308.4 L991.1,308.4 M911.1,278.7 L930.1,278.7 C949.1,278.7 953.1,336.3 972.1,336.3 L991.1,336.3 M911.1,278.7 L930.1,278.7 C949.1,278.7 953.1,360.5 972.1,360.5 L991.1,360.5 M911.1,308.4 L930.1,308.4 C949.1,308.4 953.1,278.7 972.1,278.7 L991.1,278.7 M911.1,308.4 L930.1,308.4 C949.1,308.4 953.1,308.4 972.1,308.4 L991.1,308.4 M911.1,308.4 L930.1,308.4 C949.1,308.4 953.1,336.3 972.1,336.3 L991.1,336.3 M911.1,308.4 L930.1,308.4 C949.1,308.4 953.1,360.5 972.1,360.5 L991.1,360.5 M911.1,336.3 L930.1,336.3 C949.1,336.3 953.1,278.7 972.1,278.7 L991.1,278.7 M911.1,336.3 L930.1,336.3 C949.1,336.3 953.1,308.4 972.1,308.4 L991.1,308.4 M911.1,336.3 L930.1,336.3 C949.1,336.3 953.1,336.3 972.1,336.3 L991.1,336.3 M911.1,336.3 L930.1,336.3 C949.1,336.3 953.1,360.5 972.1,360.5 L991.1,360.5 M911.1,360.5 L930.1,360.5 C949.1,360.5 953.1,278.7 972.1,278.7 L991.1,278.7 M911.1,360.5 L930.1,360.5 C949.1,360.5 953.1,308.4 972.1,308.4 L991.1,308.4 M911.1,360.5 L930.1,360.5 C949.1,360.5 953.1,336.3 972.1,336.3 L991.1,336.3 M911.1,360.5 L930.1,360.5 C949.1,360.5 953.1,360.5 972.1,360.5 L991.1,360.5" stroke="#128ed8" stroke-width="3.0" stroke-opacity="0.66" fill="none" filter="url(#grain)"/><path d="M799.1,278.7 L818.1,278.7 C837.1,278.7 841.1,278.7 860.1,278.7 L879.1,278.7 M799.1,278.7 L818.1,278.7 C837.1,278.7 841.1,308.4 860.1,308.4 L879.1,308.4 M799.1,278.7 L818.1,278.7 C837.1,278.7 841.1,336.3 860.1,336.3 L879.1,336.3 M799.1,278.7 L818.1,278.7 C837.1,278.7 841.1,360.5 860.1,360.5 L879.1,360.5 M799.1,308.4 L818.1,308.4 C837.1,308.4 841.1,278.7 860.1,278.7 L879.1,278.7 M799.1,308.4 L818.1,308.4 C837.1,308.4 841.1,308.4 860.1,308.4 L879.1,308.4 M799.1,308.4 L818.1,308.4 C837.1,308.4 841.1,336.3 860.1,336.3 L879.1,336.3 M799.1,308.4 L818.1,308.4 C837.1,308.4 841.1,360.5 860.1,360.5 L879.1,360.5 M799.1,336.3 L818.1,336.3 C837.1,336.3 841.1,278.7 860.1,278.7 L879.1,278.7 M799.1,336.3 L818.1,336.3 C837.1,336.3 841.1,308.4 860.1,308.4 L879.1,308.4 M799.1,336.3 L818.1,336.3 C837.1,336.3 841.1,336.3 860.1,336.3 L879.1,336.3 M799.1,336.3 L818.1,336.3 C837.1,336.3 841.1,360.5 860.1,360.5 L879.1,360.5 M799.1,360.5 L818.1,360.5 C837.1,360.5 841.1,278.7 860.1,278.7 L879.1,278.7 M799.1,360.5 L818.1,360.5 C837.1,360.5 841.1,308.4 860.1,308.4 L879.1,308.4 M799.1,360.5 L818.1,360.5 C837.1,360.5 841.1,336.3 860.1,336.3 L879.1,336.3 M799.1,360.5 L818.1,360.5 C837.1,360.5 841.1,360.5 860.1,360.5 L879.1,360.5 M855.1,278.7 L874.1,278.7 C893.1,278.7 897.1,278.7 916.1,278.7 L935.1,278.7 M855.1,278.7 L874.1,278.7 C893.1,278.7 897.1,308.4 916.1,308.4 L935.1,308.4 M855.1,278.7 L874.1,278.7 C893.1,278.7 897.1,336.3 916.1,336.3 L935.1,336.3 M855.1,278.7 L874.1,278.7 C893.1,278.7 897.1,360.5 916.1,360.5 L935.1,360.5 M855.1,308.4 L874.1,308.4 C893.1,308.4 897.1,278.7 916.1,278.7 L935.1,278.7 M855.1,308.4 L874.1,308.4 C893.1,308.4 897.1,308.4 916.1,308.4 L935.1,308.4 M855.1,308.4 L874.1,308.4 C893.1,308.4 897.1,336.3 916.1,336.3 L935.1,336.3 M855.1,308.4 L874.1,308.4 C893.1,308.4 897.1,360.5 916.1,360.5 L935.1,360.5 M855.1,336.3 L874.1,336.3 C893.1,336.3 897.1,278.7 916.1,278.7 L935.1,278.7 M855.1,336.3 L874.1,336.3 C893.1,336.3 897.1,308.4 916.1,308.4 L935.1,308.4 M855.1,336.3 L874.1,336.3 C893.1,336.3 897.1,336.3 916.1,336.3 L935.1,336.3 M855.1,336.3 L874.1,336.3 C893.1,336.3 897.1,360.5 916.1,360.5 L935.1,360.5 M855.1,360.5 L874.1,360.5 C893.1,360.5 897.1,278.7 916.1,278.7 L935.1,278.7 M855.1,360.5 L874.1,360.5 C893.1,360.5 897.1,308.4 916.1,308.4 L935.1,308.4 M855.1,360.5 L874.1,360.5 C893.1,360.5 897.1,336.3 916.1,336.3 L935.1,336.3 M855.1,360.5 L874.1,360.5 C893.1,360.5 897.1,360.5 916.1,360.5 L935.1,360.5 M911.1,278.7 L930.1,278.7 C949.1,278.7 953.1,278.7 972.1,278.7 L991.1,278.7 M911.1,278.7 L930.1,278.7 C949.1,278.7 953.1,308.4 972.1,308.4 L991.1,308.4 M911.1,278.7 L930.1,278.7 C949.1,278.7 953.1,336.3 972.1,336.3 L991.1,336.3 M911.1,278.7 L930.1,278.7 C949.1,278.7 953.1,360.5 972.1,360.5 L991.1,360.5 M911.1,308.4 L930.1,308.4 C949.1,308.4 953.1,278.7 972.1,278.7 L991.1,278.7 M911.1,308.4 L930.1,308.4 C949.1,308.4 953.1,308.4 972.1,308.4 L991.1,308.4 M911.1,308.4 L930.1,308.4 C949.1,308.4 953.1,336.3 972.1,336.3 L991.1,336.3 M911.1,308.4 L930.1,308.4 C949.1,308.4 953.1,360.5 972.1,360.5 L991.1,360.5 M911.1,336.3 L930.1,336.3 C949.1,336.3 953.1,278.7 972.1,278.7 L991.1,278.7 M911.1,336.3 L930.1,336.3 C949.1,336.3 953.1,308.4 972.1,308.4 L991.1,308.4 M911.1,336.3 L930.1,336.3 C949.1,336.3 953.1,336.3 972.1,336.3 L991.1,336.3 M911.1,336.3 L930.1,336.3 C949.1,336.3 953.1,360.5 972.1,360.5 L991.1,360.5 M911.1,360.5 L930.1,360.5 C949.1,360.5 953.1,278.7 972.1,278.7 L991.1,278.7 M911.1,360.5 L930.1,360.5 C949.1,360.5 953.1,308.4 972.1,308.4 L991.1,308.4 M911.1,360.5 L930.1,360.5 C949.1,360.5 953.1,336.3 972.1,336.3 L991.1,336.3 M911.1,360.5 L930.1,360.5 C949.1,360.5 953.1,360.5 972.1,360.5 L991.1,360.5" stroke="#3a5ab4" stroke-width="1.2" stroke-opacity="0.22" fill="none" filter="url(#bl1)"/><g fill="#4a58b0" fill-opacity="0.4" filter="url(#bl1)"><circle cx="839.1" cy="293.6" r="1.55"/><circle cx="842.9" cy="298.3" r="1.55"/><circle cx="844.8" cy="300.5" r="1.55"/><circle cx="835.3" cy="298.3" r="1.55"/><circle cx="839.5" cy="308.4" r="1.55"/><circle cx="839.1" cy="307.5" r="1.55"/><circle cx="843.2" cy="317.5" r="1.55"/><circle cx="841.1" cy="312.5" r="1.55"/><circle cx="845.1" cy="321.7" r="1.55"/><circle cx="833.4" cy="300.5" r="1.55"/><circle cx="835.9" cy="308.4" r="1.55"/><circle cx="840.3" cy="323.8" r="1.55"/><circle cx="837.1" cy="312.5" r="1.55"/><circle cx="839.7" cy="321.7" r="1.55"/><circle cx="844.0" cy="336.3" r="1.55"/><circle cx="839.1" cy="319.6" r="1.55"/><circle cx="841.7" cy="328.7" r="1.55"/><circle cx="845.9" cy="341.8" r="1.55"/><circle cx="838.7" cy="308.4" r="1.55"/><circle cx="842.3" cy="308.4" r="1.55"/><circle cx="835.0" cy="317.5" r="1.55"/><circle cx="839.1" cy="322.4" r="1.55"/><circle cx="838.5" cy="321.7" r="1.55"/><circle cx="842.7" cy="326.6" r="1.55"/><circle cx="833.1" cy="321.7" r="1.55"/><circle cx="835.5" cy="326.6" r="1.55"/><circle cx="839.9" cy="336.3" r="1.55"/><circle cx="836.5" cy="328.7" r="1.55"/><circle cx="839.1" cy="334.5" r="1.55"/><circle cx="843.5" cy="344.0" r="1.55"/><circle cx="837.9" cy="323.8" r="1.55"/><circle cx="834.2" cy="336.3" r="1.55"/><circle cx="838.3" cy="336.3" r="1.55"/><circle cx="832.3" cy="341.8" r="1.55"/><circle cx="834.7" cy="344.0" r="1.55"/><circle cx="839.1" cy="348.4" r="1.55"/><circle cx="895.1" cy="293.6" r="1.55"/><circle cx="898.9" cy="298.3" r="1.55"/><circle cx="900.8" cy="300.5" r="1.55"/><circle cx="891.3" cy="298.3" r="1.55"/><circle cx="895.5" cy="308.4" r="1.55"/><circle cx="895.1" cy="307.5" r="1.55"/><circle cx="899.2" cy="317.5" r="1.55"/><circle cx="897.1" cy="312.5" r="1.55"/><circle cx="901.1" cy="321.7" r="1.55"/><circle cx="889.4" cy="300.5" r="1.55"/><circle cx="891.9" cy="308.4" r="1.55"/><circle cx="896.3" cy="323.8" r="1.55"/><circle cx="893.1" cy="312.5" r="1.55"/><circle cx="895.7" cy="321.7" r="1.55"/><circle cx="900.0" cy="336.3" r="1.55"/><circle cx="895.1" cy="319.6" r="1.55"/><circle cx="897.7" cy="328.7" r="1.55"/><circle cx="901.9" cy="341.8" r="1.55"/><circle cx="894.7" cy="308.4" r="1.55"/><circle cx="898.3" cy="308.4" r="1.55"/><circle cx="891.0" cy="317.5" r="1.55"/><circle cx="895.1" cy="322.4" r="1.55"/><circle cx="894.5" cy="321.7" r="1.55"/><circle cx="898.7" cy="326.6" r="1.55"/><circle cx="889.1" cy="321.7" r="1.55"/><circle cx="891.5" cy="326.6" r="1.55"/><circle cx="895.9" cy="336.3" r="1.55"/><circle cx="892.5" cy="328.7" r="1.55"/><circle cx="895.1" cy="334.5" r="1.55"/><circle cx="899.5" cy="344.0" r="1.55"/><circle cx="893.9" cy="323.8" r="1.55"/><circle cx="890.2" cy="336.3" r="1.55"/><circle cx="894.3" cy="336.3" r="1.55"/><circle cx="888.3" cy="341.8" r="1.55"/><circle cx="890.7" cy="344.0" r="1.55"/><circle cx="895.1" cy="348.4" r="1.55"/><circle cx="951.1" cy="293.6" r="1.55"/><circle cx="954.9" cy="298.3" r="1.55"/><circle cx="956.8" cy="300.5" r="1.55"/><circle cx="947.3" cy="298.3" r="1.55"/><circle cx="951.5" cy="308.4" r="1.55"/><circle cx="951.1" cy="307.5" r="1.55"/><circle cx="955.2" cy="317.5" r="1.55"/><circle cx="953.1" cy="312.5" r="1.55"/><circle cx="957.1" cy="321.7" r="1.55"/><circle cx="945.4" cy="300.5" r="1.55"/><circle cx="947.9" cy="308.4" r="1.55"/><circle cx="952.3" cy="323.8" r="1.55"/><circle cx="949.1" cy="312.5" r="1.55"/><circle cx="951.7" cy="321.7" r="1.55"/><circle cx="956.0" cy="336.3" r="1.55"/><circle cx="951.1" cy="319.6" r="1.55"/><circle cx="953.7" cy="328.7" r="1.55"/><circle cx="957.9" cy="341.8" r="1.55"/><circle cx="950.7" cy="308.4" r="1.55"/><circle cx="954.3" cy="308.4" r="1.55"/><circle cx="947.0" cy="317.5" r="1.55"/><circle cx="951.1" cy="322.4" r="1.55"/><circle cx="950.5" cy="321.7" r="1.55"/><circle cx="954.7" cy="326.6" r="1.55"/><circle cx="945.1" cy="321.7" r="1.55"/><circle cx="947.5" cy="326.6" r="1.55"/><circle cx="951.9" cy="336.3" r="1.55"/><circle cx="948.5" cy="328.7" r="1.55"/><circle cx="951.1" cy="334.5" r="1.55"/><circle cx="955.5" cy="344.0" r="1.55"/><circle cx="949.9" cy="323.8" r="1.55"/><circle cx="946.2" cy="336.3" r="1.55"/><circle cx="950.3" cy="336.3" r="1.55"/><circle cx="944.3" cy="341.8" r="1.55"/><circle cx="946.7" cy="344.0" r="1.55"/><circle cx="951.1" cy="348.4" r="1.55"/></g><ellipse cx="811.1" cy="294.5" rx="12.3" ry="8.6" fill="#ffffff" filter="url(#bl1)"/><ellipse cx="811.1" cy="322.0" rx="12.0" ry="7.6" fill="#ffffff" filter="url(#bl1)"/><ellipse cx="811.1" cy="348.4" rx="12.3" ry="6.8" fill="#ffffff" filter="url(#bl1)"/><ellipse cx="811.1" cy="278.7" rx="9.8" ry="3.3" fill="#7a2c8e" filter="url(#bl1)"/><ellipse cx="811.1" cy="278.7" rx="4" ry="1.2" fill="#c03a70" filter="url(#bl1)"/><ellipse cx="811.1" cy="308.4" rx="9.8" ry="3.3" fill="#842a88" filter="url(#bl1)"/><ellipse cx="811.1" cy="308.4" rx="4" ry="1.2" fill="#d04860" filter="url(#bl1)"/><ellipse cx="811.1" cy="336.3" rx="9.8" ry="3.3" fill="#9c2c74" filter="url(#bl1)"/><ellipse cx="811.1" cy="336.3" rx="4.6" ry="1.4" fill="#f39030" filter="url(#bl1)"/><path d="M798.1,356.9 Q811.1,364.9 824.1,356.9" stroke="#9c2a6e" stroke-width="4.0" fill="none" filter="url(#bl1)"/><path d="M804.1,359.6 Q811.1,362.2 818.1,359.6" stroke="#f7a030" stroke-width="1.7" fill="none" filter="url(#bl1)"/><ellipse cx="867.1" cy="294.5" rx="12.3" ry="8.6" fill="#ffffff" filter="url(#bl1)"/><ellipse cx="867.1" cy="322.0" rx="12.0" ry="7.6" fill="#ffffff" filter="url(#bl1)"/><ellipse cx="867.1" cy="348.4" rx="12.3" ry="6.8" fill="#ffffff" filter="url(#bl1)"/><ellipse cx="867.1" cy="278.7" rx="9.8" ry="3.3" fill="#7a2c8e" filter="url(#bl1)"/><ellipse cx="867.1" cy="278.7" rx="4" ry="1.2" fill="#c03a70" filter="url(#bl1)"/><ellipse cx="867.1" cy="308.4" rx="9.8" ry="3.3" fill="#842a88" filter="url(#bl1)"/><ellipse cx="867.1" cy="308.4" rx="4" ry="1.2" fill="#d04860" filter="url(#bl1)"/><ellipse cx="867.1" cy="336.3" rx="9.8" ry="3.3" fill="#9c2c74" filter="url(#bl1)"/><ellipse cx="867.1" cy="336.3" rx="4.6" ry="1.4" fill="#f39030" filter="url(#bl1)"/><path d="M854.1,356.9 Q867.1,364.9 880.1,356.9" stroke="#9c2a6e" stroke-width="4.0" fill="none" filter="url(#bl1)"/><path d="M860.1,359.6 Q867.1,362.2 874.1,359.6" stroke="#f7a030" stroke-width="1.7" fill="none" filter="url(#bl1)"/><ellipse cx="923.1" cy="294.5" rx="12.3" ry="8.6" fill="#ffffff" filter="url(#bl1)"/><ellipse cx="923.1" cy="322.0" rx="12.0" ry="7.6" fill="#ffffff" filter="url(#bl1)"/><ellipse cx="923.1" cy="348.4" rx="12.3" ry="6.8" fill="#ffffff" filter="url(#bl1)"/><ellipse cx="923.1" cy="278.7" rx="9.8" ry="3.3" fill="#7a2c8e" filter="url(#bl1)"/><ellipse cx="923.1" cy="278.7" rx="4" ry="1.2" fill="#c03a70" filter="url(#bl1)"/><ellipse cx="923.1" cy="308.4" rx="9.8" ry="3.3" fill="#842a88" filter="url(#bl1)"/><ellipse cx="923.1" cy="308.4" rx="4" ry="1.2" fill="#d04860" filter="url(#bl1)"/><ellipse cx="923.1" cy="336.3" rx="9.8" ry="3.3" fill="#9c2c74" filter="url(#bl1)"/><ellipse cx="923.1" cy="336.3" rx="4.6" ry="1.4" fill="#f39030" filter="url(#bl1)"/><path d="M910.1,356.9 Q923.1,364.9 936.1,356.9" stroke="#9c2a6e" stroke-width="4.0" fill="none" filter="url(#bl1)"/><path d="M916.1,359.6 Q923.1,362.2 930.1,359.6" stroke="#f7a030" stroke-width="1.7" fill="none" filter="url(#bl1)"/><ellipse cx="979.1" cy="294.5" rx="12.3" ry="8.6" fill="#ffffff" filter="url(#bl1)"/><ellipse cx="979.1" cy="322.0" rx="12.0" ry="7.6" fill="#ffffff" filter="url(#bl1)"/><ellipse cx="979.1" cy="348.4" rx="12.3" ry="6.8" fill="#ffffff" filter="url(#bl1)"/><ellipse cx="979.1" cy="278.7" rx="9.8" ry="3.3" fill="#7a2c8e" filter="url(#bl1)"/><ellipse cx="979.1" cy="278.7" rx="4" ry="1.2" fill="#c03a70" filter="url(#bl1)"/><ellipse cx="979.1" cy="308.4" rx="9.8" ry="3.3" fill="#842a88" filter="url(#bl1)"/><ellipse cx="979.1" cy="308.4" rx="4" ry="1.2" fill="#d04860" filter="url(#bl1)"/><ellipse cx="979.1" cy="336.3" rx="9.8" ry="3.3" fill="#9c2c74" filter="url(#bl1)"/><ellipse cx="979.1" cy="336.3" rx="4.6" ry="1.4" fill="#f39030" filter="url(#bl1)"/><path d="M966.1,356.9 Q979.1,364.9 992.1,356.9" stroke="#9c2a6e" stroke-width="4.0" fill="none" filter="url(#bl1)"/><path d="M972.1,359.6 Q979.1,362.2 986.1,359.6" stroke="#f7a030" stroke-width="1.7" fill="none" filter="url(#bl1)"/></g><g clip-path="url(#eclip3)"><rect x="812.1" y="383.8" width="168.4" height="102.5" fill="url(#eg)"/><path d="M798.0,397.8 L817.0,397.8 C836.0,397.8 840.0,397.8 859.0,397.8 L878.0,397.8 M798.0,397.8 L817.0,397.8 C836.0,397.8 840.0,426.4 859.0,426.4 L878.0,426.4 M798.0,397.8 L817.0,397.8 C836.0,397.8 840.0,452.1 859.0,452.1 L878.0,452.1 M798.0,397.8 L817.0,397.8 C836.0,397.8 840.0,476.3 859.0,476.3 L878.0,476.3 M798.0,426.4 L817.0,426.4 C836.0,426.4 840.0,397.8 859.0,397.8 L878.0,397.8 M798.0,426.4 L817.0,426.4 C836.0,426.4 840.0,426.4 859.0,426.4 L878.0,426.4 M798.0,426.4 L817.0,426.4 C836.0,426.4 840.0,452.1 859.0,452.1 L878.0,452.1 M798.0,426.4 L817.0,426.4 C836.0,426.4 840.0,476.3 859.0,476.3 L878.0,476.3 M798.0,452.1 L817.0,452.1 C836.0,452.1 840.0,397.8 859.0,397.8 L878.0,397.8 M798.0,452.1 L817.0,452.1 C836.0,452.1 840.0,426.4 859.0,426.4 L878.0,426.4 M798.0,452.1 L817.0,452.1 C836.0,452.1 840.0,452.1 859.0,452.1 L878.0,452.1 M798.0,452.1 L817.0,452.1 C836.0,452.1 840.0,476.3 859.0,476.3 L878.0,476.3 M798.0,476.3 L817.0,476.3 C836.0,476.3 840.0,397.8 859.0,397.8 L878.0,397.8 M798.0,476.3 L817.0,476.3 C836.0,476.3 840.0,426.4 859.0,426.4 L878.0,426.4 M798.0,476.3 L817.0,476.3 C836.0,476.3 840.0,452.1 859.0,452.1 L878.0,452.1 M798.0,476.3 L817.0,476.3 C836.0,476.3 840.0,476.3 859.0,476.3 L878.0,476.3 M854.0,397.8 L873.0,397.8 C892.0,397.8 896.0,397.8 915.0,397.8 L934.0,397.8 M854.0,397.8 L873.0,397.8 C892.0,397.8 896.0,426.4 915.0,426.4 L934.0,426.4 M854.0,397.8 L873.0,397.8 C892.0,397.8 896.0,452.1 915.0,452.1 L934.0,452.1 M854.0,397.8 L873.0,397.8 C892.0,397.8 896.0,476.3 915.0,476.3 L934.0,476.3 M854.0,426.4 L873.0,426.4 C892.0,426.4 896.0,397.8 915.0,397.8 L934.0,397.8 M854.0,426.4 L873.0,426.4 C892.0,426.4 896.0,426.4 915.0,426.4 L934.0,426.4 M854.0,426.4 L873.0,426.4 C892.0,426.4 896.0,452.1 915.0,452.1 L934.0,452.1 M854.0,426.4 L873.0,426.4 C892.0,426.4 896.0,476.3 915.0,476.3 L934.0,476.3 M854.0,452.1 L873.0,452.1 C892.0,452.1 896.0,397.8 915.0,397.8 L934.0,397.8 M854.0,452.1 L873.0,452.1 C892.0,452.1 896.0,426.4 915.0,426.4 L934.0,426.4 M854.0,452.1 L873.0,452.1 C892.0,452.1 896.0,452.1 915.0,452.1 L934.0,452.1 M854.0,452.1 L873.0,452.1 C892.0,452.1 896.0,476.3 915.0,476.3 L934.0,476.3 M854.0,476.3 L873.0,476.3 C892.0,476.3 896.0,397.8 915.0,397.8 L934.0,397.8 M854.0,476.3 L873.0,476.3 C892.0,476.3 896.0,426.4 915.0,426.4 L934.0,426.4 M854.0,476.3 L873.0,476.3 C892.0,476.3 896.0,452.1 915.0,452.1 L934.0,452.1 M854.0,476.3 L873.0,476.3 C892.0,476.3 896.0,476.3 915.0,476.3 L934.0,476.3 M910.0,397.8 L929.0,397.8 C948.0,397.8 952.0,397.8 971.0,397.8 L990.0,397.8 M910.0,397.8 L929.0,397.8 C948.0,397.8 952.0,426.4 971.0,426.4 L990.0,426.4 M910.0,397.8 L929.0,397.8 C948.0,397.8 952.0,452.1 971.0,452.1 L990.0,452.1 M910.0,397.8 L929.0,397.8 C948.0,397.8 952.0,476.3 971.0,476.3 L990.0,476.3 M910.0,426.4 L929.0,426.4 C948.0,426.4 952.0,397.8 971.0,397.8 L990.0,397.8 M910.0,426.4 L929.0,426.4 C948.0,426.4 952.0,426.4 971.0,426.4 L990.0,426.4 M910.0,426.4 L929.0,426.4 C948.0,426.4 952.0,452.1 971.0,452.1 L990.0,452.1 M910.0,426.4 L929.0,426.4 C948.0,426.4 952.0,476.3 971.0,476.3 L990.0,476.3 M910.0,452.1 L929.0,452.1 C948.0,452.1 952.0,397.8 971.0,397.8 L990.0,397.8 M910.0,452.1 L929.0,452.1 C948.0,452.1 952.0,426.4 971.0,426.4 L990.0,426.4 M910.0,452.1 L929.0,452.1 C948.0,452.1 952.0,452.1 971.0,452.1 L990.0,452.1 M910.0,452.1 L929.0,452.1 C948.0,452.1 952.0,476.3 971.0,476.3 L990.0,476.3 M910.0,476.3 L929.0,476.3 C948.0,476.3 952.0,397.8 971.0,397.8 L990.0,397.8 M910.0,476.3 L929.0,476.3 C948.0,476.3 952.0,426.4 971.0,426.4 L990.0,426.4 M910.0,476.3 L929.0,476.3 C948.0,476.3 952.0,452.1 971.0,452.1 L990.0,452.1 M910.0,476.3 L929.0,476.3 C948.0,476.3 952.0,476.3 971.0,476.3 L990.0,476.3" stroke="#128ed8" stroke-width="3.0" stroke-opacity="0.66" fill="none" filter="url(#grain)"/><path d="M798.0,397.8 L817.0,397.8 C836.0,397.8 840.0,397.8 859.0,397.8 L878.0,397.8 M798.0,397.8 L817.0,397.8 C836.0,397.8 840.0,426.4 859.0,426.4 L878.0,426.4 M798.0,397.8 L817.0,397.8 C836.0,397.8 840.0,452.1 859.0,452.1 L878.0,452.1 M798.0,397.8 L817.0,397.8 C836.0,397.8 840.0,476.3 859.0,476.3 L878.0,476.3 M798.0,426.4 L817.0,426.4 C836.0,426.4 840.0,397.8 859.0,397.8 L878.0,397.8 M798.0,426.4 L817.0,426.4 C836.0,426.4 840.0,426.4 859.0,426.4 L878.0,426.4 M798.0,426.4 L817.0,426.4 C836.0,426.4 840.0,452.1 859.0,452.1 L878.0,452.1 M798.0,426.4 L817.0,426.4 C836.0,426.4 840.0,476.3 859.0,476.3 L878.0,476.3 M798.0,452.1 L817.0,452.1 C836.0,452.1 840.0,397.8 859.0,397.8 L878.0,397.8 M798.0,452.1 L817.0,452.1 C836.0,452.1 840.0,426.4 859.0,426.4 L878.0,426.4 M798.0,452.1 L817.0,452.1 C836.0,452.1 840.0,452.1 859.0,452.1 L878.0,452.1 M798.0,452.1 L817.0,452.1 C836.0,452.1 840.0,476.3 859.0,476.3 L878.0,476.3 M798.0,476.3 L817.0,476.3 C836.0,476.3 840.0,397.8 859.0,397.8 L878.0,397.8 M798.0,476.3 L817.0,476.3 C836.0,476.3 840.0,426.4 859.0,426.4 L878.0,426.4 M798.0,476.3 L817.0,476.3 C836.0,476.3 840.0,452.1 859.0,452.1 L878.0,452.1 M798.0,476.3 L817.0,476.3 C836.0,476.3 840.0,476.3 859.0,476.3 L878.0,476.3 M854.0,397.8 L873.0,397.8 C892.0,397.8 896.0,397.8 915.0,397.8 L934.0,397.8 M854.0,397.8 L873.0,397.8 C892.0,397.8 896.0,426.4 915.0,426.4 L934.0,426.4 M854.0,397.8 L873.0,397.8 C892.0,397.8 896.0,452.1 915.0,452.1 L934.0,452.1 M854.0,397.8 L873.0,397.8 C892.0,397.8 896.0,476.3 915.0,476.3 L934.0,476.3 M854.0,426.4 L873.0,426.4 C892.0,426.4 896.0,397.8 915.0,397.8 L934.0,397.8 M854.0,426.4 L873.0,426.4 C892.0,426.4 896.0,426.4 915.0,426.4 L934.0,426.4 M854.0,426.4 L873.0,426.4 C892.0,426.4 896.0,452.1 915.0,452.1 L934.0,452.1 M854.0,426.4 L873.0,426.4 C892.0,426.4 896.0,476.3 915.0,476.3 L934.0,476.3 M854.0,452.1 L873.0,452.1 C892.0,452.1 896.0,397.8 915.0,397.8 L934.0,397.8 M854.0,452.1 L873.0,452.1 C892.0,452.1 896.0,426.4 915.0,426.4 L934.0,426.4 M854.0,452.1 L873.0,452.1 C892.0,452.1 896.0,452.1 915.0,452.1 L934.0,452.1 M854.0,452.1 L873.0,452.1 C892.0,452.1 896.0,476.3 915.0,476.3 L934.0,476.3 M854.0,476.3 L873.0,476.3 C892.0,476.3 896.0,397.8 915.0,397.8 L934.0,397.8 M854.0,476.3 L873.0,476.3 C892.0,476.3 896.0,426.4 915.0,426.4 L934.0,426.4 M854.0,476.3 L873.0,476.3 C892.0,476.3 896.0,452.1 915.0,452.1 L934.0,452.1 M854.0,476.3 L873.0,476.3 C892.0,476.3 896.0,476.3 915.0,476.3 L934.0,476.3 M910.0,397.8 L929.0,397.8 C948.0,397.8 952.0,397.8 971.0,397.8 L990.0,397.8 M910.0,397.8 L929.0,397.8 C948.0,397.8 952.0,426.4 971.0,426.4 L990.0,426.4 M910.0,397.8 L929.0,397.8 C948.0,397.8 952.0,452.1 971.0,452.1 L990.0,452.1 M910.0,397.8 L929.0,397.8 C948.0,397.8 952.0,476.3 971.0,476.3 L990.0,476.3 M910.0,426.4 L929.0,426.4 C948.0,426.4 952.0,397.8 971.0,397.8 L990.0,397.8 M910.0,426.4 L929.0,426.4 C948.0,426.4 952.0,426.4 971.0,426.4 L990.0,426.4 M910.0,426.4 L929.0,426.4 C948.0,426.4 952.0,452.1 971.0,452.1 L990.0,452.1 M910.0,426.4 L929.0,426.4 C948.0,426.4 952.0,476.3 971.0,476.3 L990.0,476.3 M910.0,452.1 L929.0,452.1 C948.0,452.1 952.0,397.8 971.0,397.8 L990.0,397.8 M910.0,452.1 L929.0,452.1 C948.0,452.1 952.0,426.4 971.0,426.4 L990.0,426.4 M910.0,452.1 L929.0,452.1 C948.0,452.1 952.0,452.1 971.0,452.1 L990.0,452.1 M910.0,452.1 L929.0,452.1 C948.0,452.1 952.0,476.3 971.0,476.3 L990.0,476.3 M910.0,476.3 L929.0,476.3 C948.0,476.3 952.0,397.8 971.0,397.8 L990.0,397.8 M910.0,476.3 L929.0,476.3 C948.0,476.3 952.0,426.4 971.0,426.4 L990.0,426.4 M910.0,476.3 L929.0,476.3 C948.0,476.3 952.0,452.1 971.0,452.1 L990.0,452.1 M910.0,476.3 L929.0,476.3 C948.0,476.3 952.0,476.3 971.0,476.3 L990.0,476.3" stroke="#3a5ab4" stroke-width="1.2" stroke-opacity="0.22" fill="none" filter="url(#bl1)"/><g fill="#4a58b0" fill-opacity="0.4" filter="url(#bl1)"><circle cx="838.0" cy="412.1" r="1.55"/><circle cx="841.7" cy="416.5" r="1.55"/><circle cx="843.7" cy="418.8" r="1.55"/><circle cx="834.3" cy="416.5" r="1.55"/><circle cx="838.6" cy="426.4" r="1.55"/><circle cx="838.0" cy="425.0" r="1.55"/><circle cx="842.2" cy="434.7" r="1.55"/><circle cx="840.1" cy="429.9" r="1.55"/><circle cx="844.2" cy="438.7" r="1.55"/><circle cx="832.3" cy="418.8" r="1.55"/><circle cx="834.8" cy="426.4" r="1.55"/><circle cx="839.0" cy="440.3" r="1.55"/><circle cx="835.9" cy="429.9" r="1.55"/><circle cx="838.5" cy="438.7" r="1.55"/><circle cx="842.6" cy="452.1" r="1.55"/><circle cx="838.0" cy="437.1" r="1.55"/><circle cx="840.6" cy="445.8" r="1.55"/><circle cx="844.6" cy="457.8" r="1.55"/><circle cx="837.4" cy="426.4" r="1.55"/><circle cx="841.2" cy="426.4" r="1.55"/><circle cx="833.8" cy="434.7" r="1.55"/><circle cx="838.0" cy="439.2" r="1.55"/><circle cx="837.5" cy="438.7" r="1.55"/><circle cx="841.8" cy="443.4" r="1.55"/><circle cx="831.8" cy="438.7" r="1.55"/><circle cx="834.2" cy="443.4" r="1.55"/><circle cx="838.3" cy="452.1" r="1.55"/><circle cx="835.4" cy="445.8" r="1.55"/><circle cx="838.0" cy="451.4" r="1.55"/><circle cx="842.1" cy="460.0" r="1.55"/><circle cx="837.0" cy="440.3" r="1.55"/><circle cx="833.4" cy="452.1" r="1.55"/><circle cx="837.7" cy="452.1" r="1.55"/><circle cx="831.4" cy="457.8" r="1.55"/><circle cx="833.9" cy="460.0" r="1.55"/><circle cx="838.0" cy="464.2" r="1.55"/><circle cx="894.0" cy="412.1" r="1.55"/><circle cx="897.7" cy="416.5" r="1.55"/><circle cx="899.7" cy="418.8" r="1.55"/><circle cx="890.3" cy="416.5" r="1.55"/><circle cx="894.6" cy="426.4" r="1.55"/><circle cx="894.0" cy="425.0" r="1.55"/><circle cx="898.2" cy="434.7" r="1.55"/><circle cx="896.1" cy="429.9" r="1.55"/><circle cx="900.2" cy="438.7" r="1.55"/><circle cx="888.3" cy="418.8" r="1.55"/><circle cx="890.8" cy="426.4" r="1.55"/><circle cx="895.0" cy="440.3" r="1.55"/><circle cx="891.9" cy="429.9" r="1.55"/><circle cx="894.5" cy="438.7" r="1.55"/><circle cx="898.6" cy="452.1" r="1.55"/><circle cx="894.0" cy="437.1" r="1.55"/><circle cx="896.6" cy="445.8" r="1.55"/><circle cx="900.6" cy="457.8" r="1.55"/><circle cx="893.4" cy="426.4" r="1.55"/><circle cx="897.2" cy="426.4" r="1.55"/><circle cx="889.8" cy="434.7" r="1.55"/><circle cx="894.0" cy="439.2" r="1.55"/><circle cx="893.5" cy="438.7" r="1.55"/><circle cx="897.8" cy="443.4" r="1.55"/><circle cx="887.8" cy="438.7" r="1.55"/><circle cx="890.2" cy="443.4" r="1.55"/><circle cx="894.3" cy="452.1" r="1.55"/><circle cx="891.4" cy="445.8" r="1.55"/><circle cx="894.0" cy="451.4" r="1.55"/><circle cx="898.1" cy="460.0" r="1.55"/><circle cx="893.0" cy="440.3" r="1.55"/><circle cx="889.4" cy="452.1" r="1.55"/><circle cx="893.7" cy="452.1" r="1.55"/><circle cx="887.4" cy="457.8" r="1.55"/><circle cx="889.9" cy="460.0" r="1.55"/><circle cx="894.0" cy="464.2" r="1.55"/><circle cx="950.0" cy="412.1" r="1.55"/><circle cx="953.7" cy="416.5" r="1.55"/><circle cx="955.7" cy="418.8" r="1.55"/><circle cx="946.3" cy="416.5" r="1.55"/><circle cx="950.6" cy="426.4" r="1.55"/><circle cx="950.0" cy="425.0" r="1.55"/><circle cx="954.2" cy="434.7" r="1.55"/><circle cx="952.1" cy="429.9" r="1.55"/><circle cx="956.2" cy="438.7" r="1.55"/><circle cx="944.3" cy="418.8" r="1.55"/><circle cx="946.8" cy="426.4" r="1.55"/><circle cx="951.0" cy="440.3" r="1.55"/><circle cx="947.9" cy="429.9" r="1.55"/><circle cx="950.5" cy="438.7" r="1.55"/><circle cx="954.6" cy="452.1" r="1.55"/><circle cx="950.0" cy="437.1" r="1.55"/><circle cx="952.6" cy="445.8" r="1.55"/><circle cx="956.6" cy="457.8" r="1.55"/><circle cx="949.4" cy="426.4" r="1.55"/><circle cx="953.2" cy="426.4" r="1.55"/><circle cx="945.8" cy="434.7" r="1.55"/><circle cx="950.0" cy="439.2" r="1.55"/><circle cx="949.5" cy="438.7" r="1.55"/><circle cx="953.8" cy="443.4" r="1.55"/><circle cx="943.8" cy="438.7" r="1.55"/><circle cx="946.2" cy="443.4" r="1.55"/><circle cx="950.3" cy="452.1" r="1.55"/><circle cx="947.4" cy="445.8" r="1.55"/><circle cx="950.0" cy="451.4" r="1.55"/><circle cx="954.1" cy="460.0" r="1.55"/><circle cx="949.0" cy="440.3" r="1.55"/><circle cx="945.4" cy="452.1" r="1.55"/><circle cx="949.7" cy="452.1" r="1.55"/><circle cx="943.4" cy="457.8" r="1.55"/><circle cx="945.9" cy="460.0" r="1.55"/><circle cx="950.0" cy="464.2" r="1.55"/></g><ellipse cx="810.0" cy="412.5" rx="12.3" ry="8.6" fill="#ffffff" filter="url(#bl1)"/><ellipse cx="810.0" cy="440.0" rx="12.0" ry="7.6" fill="#ffffff" filter="url(#bl1)"/><ellipse cx="810.0" cy="464.2" rx="12.3" ry="6.8" fill="#ffffff" filter="url(#bl1)"/><ellipse cx="810.0" cy="397.8" rx="9.8" ry="3.3" fill="#7a2c8e" filter="url(#bl1)"/><ellipse cx="810.0" cy="397.8" rx="4" ry="1.2" fill="#c03a70" filter="url(#bl1)"/><ellipse cx="810.0" cy="426.4" rx="9.8" ry="3.3" fill="#842a88" filter="url(#bl1)"/><ellipse cx="810.0" cy="426.4" rx="4" ry="1.2" fill="#d04860" filter="url(#bl1)"/><ellipse cx="810.0" cy="452.1" rx="9.8" ry="3.3" fill="#9c2c74" filter="url(#bl1)"/><ellipse cx="810.0" cy="452.1" rx="4.6" ry="1.4" fill="#f39030" filter="url(#bl1)"/><path d="M797.0,472.7 Q810.0,480.7 823.0,472.7" stroke="#9c2a6e" stroke-width="4.0" fill="none" filter="url(#bl1)"/><path d="M803.0,475.4 Q810.0,478.0 817.0,475.4" stroke="#f7a030" stroke-width="1.7" fill="none" filter="url(#bl1)"/><ellipse cx="866.0" cy="412.5" rx="12.3" ry="8.6" fill="#ffffff" filter="url(#bl1)"/><ellipse cx="866.0" cy="440.0" rx="12.0" ry="7.6" fill="#ffffff" filter="url(#bl1)"/><ellipse cx="866.0" cy="464.2" rx="12.3" ry="6.8" fill="#ffffff" filter="url(#bl1)"/><ellipse cx="866.0" cy="397.8" rx="9.8" ry="3.3" fill="#7a2c8e" filter="url(#bl1)"/><ellipse cx="866.0" cy="397.8" rx="4" ry="1.2" fill="#c03a70" filter="url(#bl1)"/><ellipse cx="866.0" cy="426.4" rx="9.8" ry="3.3" fill="#842a88" filter="url(#bl1)"/><ellipse cx="866.0" cy="426.4" rx="4" ry="1.2" fill="#d04860" filter="url(#bl1)"/><ellipse cx="866.0" cy="452.1" rx="9.8" ry="3.3" fill="#9c2c74" filter="url(#bl1)"/><ellipse cx="866.0" cy="452.1" rx="4.6" ry="1.4" fill="#f39030" filter="url(#bl1)"/><path d="M853.0,472.7 Q866.0,480.7 879.0,472.7" stroke="#9c2a6e" stroke-width="4.0" fill="none" filter="url(#bl1)"/><path d="M859.0,475.4 Q866.0,478.0 873.0,475.4" stroke="#f7a030" stroke-width="1.7" fill="none" filter="url(#bl1)"/><ellipse cx="922.0" cy="412.5" rx="12.3" ry="8.6" fill="#ffffff" filter="url(#bl1)"/><ellipse cx="922.0" cy="440.0" rx="12.0" ry="7.6" fill="#ffffff" filter="url(#bl1)"/><ellipse cx="922.0" cy="464.2" rx="12.3" ry="6.8" fill="#ffffff" filter="url(#bl1)"/><ellipse cx="922.0" cy="397.8" rx="9.8" ry="3.3" fill="#7a2c8e" filter="url(#bl1)"/><ellipse cx="922.0" cy="397.8" rx="4" ry="1.2" fill="#c03a70" filter="url(#bl1)"/><ellipse cx="922.0" cy="426.4" rx="9.8" ry="3.3" fill="#842a88" filter="url(#bl1)"/><ellipse cx="922.0" cy="426.4" rx="4" ry="1.2" fill="#d04860" filter="url(#bl1)"/><ellipse cx="922.0" cy="452.1" rx="9.8" ry="3.3" fill="#9c2c74" filter="url(#bl1)"/><ellipse cx="922.0" cy="452.1" rx="4.6" ry="1.4" fill="#f39030" filter="url(#bl1)"/><path d="M909.0,472.7 Q922.0,480.7 935.0,472.7" stroke="#9c2a6e" stroke-width="4.0" fill="none" filter="url(#bl1)"/><path d="M915.0,475.4 Q922.0,478.0 929.0,475.4" stroke="#f7a030" stroke-width="1.7" fill="none" filter="url(#bl1)"/><ellipse cx="978.0" cy="412.5" rx="12.3" ry="8.6" fill="#ffffff" filter="url(#bl1)"/><ellipse cx="978.0" cy="440.0" rx="12.0" ry="7.6" fill="#ffffff" filter="url(#bl1)"/><ellipse cx="978.0" cy="464.2" rx="12.3" ry="6.8" fill="#ffffff" filter="url(#bl1)"/><ellipse cx="978.0" cy="397.8" rx="9.8" ry="3.3" fill="#7a2c8e" filter="url(#bl1)"/><ellipse cx="978.0" cy="397.8" rx="4" ry="1.2" fill="#c03a70" filter="url(#bl1)"/><ellipse cx="978.0" cy="426.4" rx="9.8" ry="3.3" fill="#842a88" filter="url(#bl1)"/><ellipse cx="978.0" cy="426.4" rx="4" ry="1.2" fill="#d04860" filter="url(#bl1)"/><ellipse cx="978.0" cy="452.1" rx="9.8" ry="3.3" fill="#9c2c74" filter="url(#bl1)"/><ellipse cx="978.0" cy="452.1" rx="4.6" ry="1.4" fill="#f39030" filter="url(#bl1)"/><path d="M965.0,472.7 Q978.0,480.7 991.0,472.7" stroke="#9c2a6e" stroke-width="4.0" fill="none" filter="url(#bl1)"/><path d="M971.0,475.4 Q978.0,478.0 985.0,475.4" stroke="#f7a030" stroke-width="1.7" fill="none" filter="url(#bl1)"/></g>
<text x="768" y="21.3" font-size="17" fill="#111" text-anchor="start" font-weight="bold" >c</text>
<text x="802.4" y="21.3" font-size="13.35" fill="#222" text-anchor="start" font-weight="normal" stroke="#222" stroke-width="0.18" >50Gbaud PAM4</text>
<rect x="951.2" y="15" width="13.8" height="4.5" fill="#2e4f9e"/>
<text x="967.3" y="21.3" font-size="13.6" fill="#222" text-anchor="start" font-weight="normal" stroke="#222" stroke-width="0.18" >5ps</text>
<text x="757.1" y="96" font-size="13.3" fill="#333" text-anchor="start" font-weight="normal" stroke="#333" stroke-width="0.18" >Ch05</text>
<text x="757.1" y="207" font-size="13.3" fill="#333" text-anchor="start" font-weight="normal" stroke="#333" stroke-width="0.18" >Ch07</text>
<text x="757.1" y="317.3" font-size="13.3" fill="#333" text-anchor="start" font-weight="normal" stroke="#333" stroke-width="0.18" >Ch12</text>
<text x="757.1" y="435.4" font-size="13.3" fill="#333" text-anchor="start" font-weight="normal" stroke="#333" stroke-width="0.18" >Ch14</text>
<rect x="803" y="25.9" width="187.20000000000005" height="467.70000000000005" fill="none" stroke="#3f5ba8" stroke-width="1.6"/>
<line x1="803" y1="142.0" x2="990.2" y2="142.0" stroke="#3f5ba8" stroke-width="1.6"/>
<line x1="803" y1="258.6" x2="990.2" y2="258.6" stroke="#3f5ba8" stroke-width="1.6"/>
<line x1="803" y1="376.0" x2="990.2" y2="376.0" stroke="#3f5ba8" stroke-width="1.6"/>
</svg>
</body></html>
